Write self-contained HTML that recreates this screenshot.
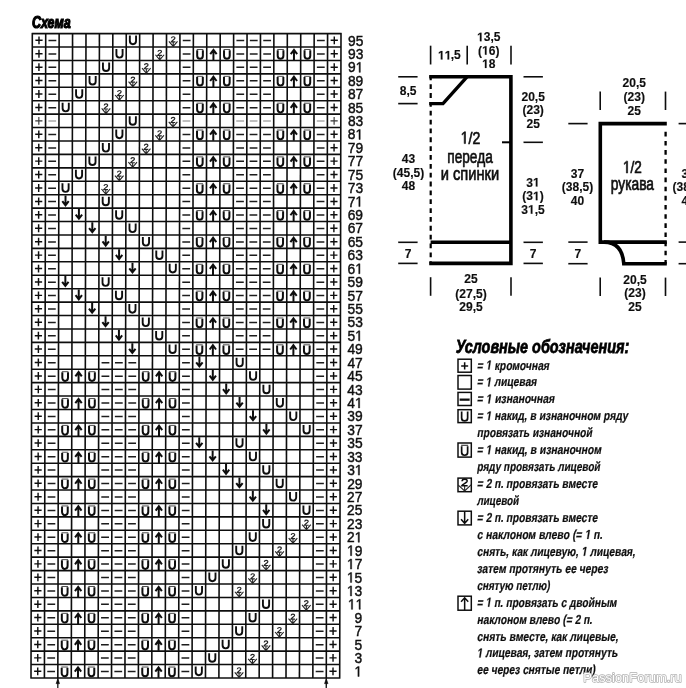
<!DOCTYPE html>
<html lang="ru"><head><meta charset="utf-8"><title>Схема</title>
<style>html,body{margin:0;padding:0;background:#fff}body{width:686px;height:688px;position:relative;overflow:hidden;font-family:"Liberation Sans",sans-serif}</style></head>
<body>
<svg width="686" height="688" viewBox="0 0 686 688" style="position:absolute;left:0;top:0">
<defs><filter id="bl" x="-2%" y="-2%" width="104%" height="104%"><feGaussianBlur stdDeviation="0.5"/></filter><filter id="bl2" x="-2%" y="-20%" width="104%" height="140%"><feGaussianBlur stdDeviation="0.3"/></filter></defs>
<g filter="url(#bl)">
<g transform="matrix(1 0 -0.002017 1 0.0678 0)">
<path d="M32.30 33.00V678.60M45.72 33.00V678.60M59.14 33.00V678.60M72.57 33.00V678.60M85.99 33.00V678.60M99.41 33.00V678.60M112.83 33.00V678.60M126.25 33.00V678.60M139.67 33.00V678.60M153.10 33.00V678.60M166.52 33.00V678.60M179.94 33.00V678.60M193.36 33.00V678.60M206.78 33.00V678.60M220.20 33.00V678.60M233.63 33.00V678.60M247.05 33.00V678.60M260.47 33.00V678.60M273.89 33.00V678.60M287.31 33.00V678.60M300.73 33.00V678.60M314.16 33.00V678.60M327.58 33.00V678.60M341.00 33.00V678.60M31.70 33.60H341.60M31.70 47.02H341.60M31.70 60.45H341.60M31.70 73.88H341.60M31.70 87.30H341.60M31.70 100.72H341.60M31.70 114.15H341.60M31.70 127.57H341.60M31.70 141.00H341.60M31.70 154.42H341.60M31.70 167.85H341.60M31.70 181.27H341.60M31.70 194.70H341.60M31.70 208.12H341.60M31.70 221.55H341.60M31.70 234.97H341.60M31.70 248.40H341.60M31.70 261.82H341.60M31.70 275.25H341.60M31.70 288.68H341.60M31.70 302.10H341.60M31.70 315.52H341.60M31.70 328.95H341.60M31.70 342.38H341.60M31.70 355.80H341.60M31.70 369.23H341.60M31.70 382.65H341.60M31.70 396.07H341.60M31.70 409.50H341.60M31.70 422.93H341.60M31.70 436.35H341.60M31.70 449.77H341.60M31.70 463.20H341.60M31.70 476.62H341.60M31.70 490.05H341.60M31.70 503.47H341.60M31.70 516.90H341.60M31.70 530.32H341.60M31.70 543.75H341.60M31.70 557.17H341.60M31.70 570.60H341.60M31.70 584.02H341.60M31.70 597.45H341.60M31.70 610.88H341.60M31.70 624.30H341.60M31.70 637.73H341.60M31.70 651.15H341.60M31.70 664.57H341.60M31.70 678.00H341.60" stroke="#111" stroke-width="1.6" fill="none"/>
<path d="M35.41 40.31H42.61M39.01 36.41V44.21" stroke="#111" stroke-width="1.45" fill="none"/>
<path d="M48.53 40.51H56.33" stroke="#1c1c1c" stroke-width="1.5" fill="none"/>
<path d="M129.86 35.61V41.11A3.10 3.10 0 0 0 136.06 41.11V35.61" stroke="#111" stroke-width="1.9" fill="none"/>
<path d="M168.93 41.31L173.23 46.41L177.53 41.31M173.23 42.11V46.41" stroke="#222" stroke-width="1.1" fill="none"/>
<path d="M171.43 38.31C171.63 36.21 175.23 36.41 174.93 38.21C174.73 39.51 171.93 40.31 171.23 41.91H175.43" stroke="#222" stroke-width="1.15" fill="none"/>
<path d="M182.75 40.51H190.55" stroke="#1c1c1c" stroke-width="1.5" fill="none"/>
<path d="M236.44 40.51H244.24" stroke="#1c1c1c" stroke-width="1.5" fill="none"/>
<path d="M249.86 40.51H257.66" stroke="#1c1c1c" stroke-width="1.5" fill="none"/>
<path d="M263.28 40.51H271.08" stroke="#1c1c1c" stroke-width="1.5" fill="none"/>
<path d="M316.97 40.51H324.77" stroke="#1c1c1c" stroke-width="1.5" fill="none"/>
<path d="M330.69 40.31H337.89M334.29 36.41V44.21" stroke="#111" stroke-width="1.45" fill="none"/>
<path d="M35.41 53.74H42.61M39.01 49.84V57.64" stroke="#111" stroke-width="1.45" fill="none"/>
<path d="M48.53 53.94H56.33" stroke="#1c1c1c" stroke-width="1.5" fill="none"/>
<path d="M116.44 49.04V54.54A3.10 3.10 0 0 0 122.64 54.54V49.04" stroke="#111" stroke-width="1.9" fill="none"/>
<path d="M155.51 54.74L159.81 59.84L164.11 54.74M159.81 55.54V59.84" stroke="#222" stroke-width="1.1" fill="none"/>
<path d="M158.01 51.74C158.21 49.64 161.81 49.84 161.51 51.64C161.31 52.94 158.51 53.74 157.81 55.34H162.01" stroke="#222" stroke-width="1.15" fill="none"/>
<path d="M182.75 53.94H190.55" stroke="#1c1c1c" stroke-width="1.5" fill="none"/>
<path d="M197.22 50.14V55.64A2.85 3.10 0 0 0 202.92 55.64V50.14" stroke="#111" stroke-width="2.0" fill="none"/>
<path d="M196.77 49.49H203.37" stroke="#444" stroke-width="0.95" fill="none"/>
<path d="M213.49 60.14V50.34M210.29 54.14L213.49 49.84L216.69 54.14" stroke="#111" stroke-width="2.0" fill="none" stroke-linejoin="miter"/>
<path d="M224.07 50.14V55.64A2.85 3.10 0 0 0 229.77 55.64V50.14" stroke="#111" stroke-width="2.0" fill="none"/>
<path d="M223.62 49.49H230.22" stroke="#444" stroke-width="0.95" fill="none"/>
<path d="M236.44 53.94H244.24" stroke="#1c1c1c" stroke-width="1.5" fill="none"/>
<path d="M249.86 53.94H257.66" stroke="#1c1c1c" stroke-width="1.5" fill="none"/>
<path d="M263.28 53.94H271.08" stroke="#1c1c1c" stroke-width="1.5" fill="none"/>
<path d="M277.75 50.14V55.64A2.85 3.10 0 0 0 283.45 55.64V50.14" stroke="#111" stroke-width="2.0" fill="none"/>
<path d="M277.30 49.49H283.90" stroke="#444" stroke-width="0.95" fill="none"/>
<path d="M294.02 60.14V50.34M290.82 54.14L294.02 49.84L297.22 54.14" stroke="#111" stroke-width="2.0" fill="none" stroke-linejoin="miter"/>
<path d="M304.60 50.14V55.64A2.85 3.10 0 0 0 310.30 55.64V50.14" stroke="#111" stroke-width="2.0" fill="none"/>
<path d="M304.15 49.49H310.75" stroke="#444" stroke-width="0.95" fill="none"/>
<path d="M316.97 53.94H324.77" stroke="#1c1c1c" stroke-width="1.5" fill="none"/>
<path d="M330.69 53.74H337.89M334.29 49.84V57.64" stroke="#111" stroke-width="1.45" fill="none"/>
<path d="M35.41 67.16H42.61M39.01 63.26V71.06" stroke="#111" stroke-width="1.45" fill="none"/>
<path d="M48.53 67.36H56.33" stroke="#1c1c1c" stroke-width="1.5" fill="none"/>
<path d="M103.02 62.46V67.96A3.10 3.10 0 0 0 109.22 67.96V62.46" stroke="#111" stroke-width="1.9" fill="none"/>
<path d="M142.08 68.16L146.38 73.26L150.68 68.16M146.38 68.96V73.26" stroke="#222" stroke-width="1.1" fill="none"/>
<path d="M144.58 65.16C144.78 63.06 148.38 63.26 148.08 65.06C147.88 66.36 145.08 67.16 144.38 68.76H148.58" stroke="#222" stroke-width="1.15" fill="none"/>
<path d="M182.75 67.36H190.55" stroke="#1c1c1c" stroke-width="1.5" fill="none"/>
<path d="M236.44 67.36H244.24" stroke="#1c1c1c" stroke-width="1.5" fill="none"/>
<path d="M249.86 67.36H257.66" stroke="#1c1c1c" stroke-width="1.5" fill="none"/>
<path d="M263.28 67.36H271.08" stroke="#1c1c1c" stroke-width="1.5" fill="none"/>
<path d="M316.97 67.36H324.77" stroke="#1c1c1c" stroke-width="1.5" fill="none"/>
<path d="M330.69 67.16H337.89M334.29 63.26V71.06" stroke="#111" stroke-width="1.45" fill="none"/>
<path d="M35.41 80.59H42.61M39.01 76.69V84.49" stroke="#111" stroke-width="1.45" fill="none"/>
<path d="M48.53 80.79H56.33" stroke="#1c1c1c" stroke-width="1.5" fill="none"/>
<path d="M89.60 75.89V81.39A3.10 3.10 0 0 0 95.80 81.39V75.89" stroke="#111" stroke-width="1.9" fill="none"/>
<path d="M128.66 81.59L132.96 86.69L137.26 81.59M132.96 82.39V86.69" stroke="#222" stroke-width="1.1" fill="none"/>
<path d="M131.16 78.59C131.36 76.49 134.96 76.69 134.66 78.49C134.46 79.79 131.66 80.59 130.96 82.19H135.16" stroke="#222" stroke-width="1.15" fill="none"/>
<path d="M182.75 80.79H190.55" stroke="#1c1c1c" stroke-width="1.5" fill="none"/>
<path d="M197.22 76.99V82.49A2.85 3.10 0 0 0 202.92 82.49V76.99" stroke="#111" stroke-width="2.0" fill="none"/>
<path d="M196.77 76.34H203.37" stroke="#444" stroke-width="0.95" fill="none"/>
<path d="M213.49 86.99V77.19M210.29 80.99L213.49 76.69L216.69 80.99" stroke="#111" stroke-width="2.0" fill="none" stroke-linejoin="miter"/>
<path d="M224.07 76.99V82.49A2.85 3.10 0 0 0 229.77 82.49V76.99" stroke="#111" stroke-width="2.0" fill="none"/>
<path d="M223.62 76.34H230.22" stroke="#444" stroke-width="0.95" fill="none"/>
<path d="M236.44 80.79H244.24" stroke="#1c1c1c" stroke-width="1.5" fill="none"/>
<path d="M249.86 80.79H257.66" stroke="#1c1c1c" stroke-width="1.5" fill="none"/>
<path d="M263.28 80.79H271.08" stroke="#1c1c1c" stroke-width="1.5" fill="none"/>
<path d="M277.75 76.99V82.49A2.85 3.10 0 0 0 283.45 82.49V76.99" stroke="#111" stroke-width="2.0" fill="none"/>
<path d="M277.30 76.34H283.90" stroke="#444" stroke-width="0.95" fill="none"/>
<path d="M294.02 86.99V77.19M290.82 80.99L294.02 76.69L297.22 80.99" stroke="#111" stroke-width="2.0" fill="none" stroke-linejoin="miter"/>
<path d="M304.60 76.99V82.49A2.85 3.10 0 0 0 310.30 82.49V76.99" stroke="#111" stroke-width="2.0" fill="none"/>
<path d="M304.15 76.34H310.75" stroke="#444" stroke-width="0.95" fill="none"/>
<path d="M316.97 80.79H324.77" stroke="#1c1c1c" stroke-width="1.5" fill="none"/>
<path d="M330.69 80.59H337.89M334.29 76.69V84.49" stroke="#111" stroke-width="1.45" fill="none"/>
<path d="M35.41 94.01H42.61M39.01 90.11V97.91" stroke="#111" stroke-width="1.45" fill="none"/>
<path d="M48.53 94.21H56.33" stroke="#1c1c1c" stroke-width="1.5" fill="none"/>
<path d="M76.18 89.31V94.81A3.10 3.10 0 0 0 82.38 94.81V89.31" stroke="#111" stroke-width="1.9" fill="none"/>
<path d="M115.24 95.01L119.54 100.11L123.84 95.01M119.54 95.81V100.11" stroke="#222" stroke-width="1.1" fill="none"/>
<path d="M117.74 92.01C117.94 89.91 121.54 90.11 121.24 91.91C121.04 93.21 118.24 94.01 117.54 95.61H121.74" stroke="#222" stroke-width="1.15" fill="none"/>
<path d="M182.75 94.21H190.55" stroke="#1c1c1c" stroke-width="1.5" fill="none"/>
<path d="M236.44 94.21H244.24" stroke="#1c1c1c" stroke-width="1.5" fill="none"/>
<path d="M249.86 94.21H257.66" stroke="#1c1c1c" stroke-width="1.5" fill="none"/>
<path d="M263.28 94.21H271.08" stroke="#1c1c1c" stroke-width="1.5" fill="none"/>
<path d="M316.97 94.21H324.77" stroke="#1c1c1c" stroke-width="1.5" fill="none"/>
<path d="M330.69 94.01H337.89M334.29 90.11V97.91" stroke="#111" stroke-width="1.45" fill="none"/>
<path d="M35.41 107.44H42.61M39.01 103.54V111.34" stroke="#111" stroke-width="1.45" fill="none"/>
<path d="M48.53 107.64H56.33" stroke="#1c1c1c" stroke-width="1.5" fill="none"/>
<path d="M62.75 102.74V108.24A3.10 3.10 0 0 0 68.95 108.24V102.74" stroke="#111" stroke-width="1.9" fill="none"/>
<path d="M101.82 108.44L106.12 113.54L110.42 108.44M106.12 109.24V113.54" stroke="#222" stroke-width="1.1" fill="none"/>
<path d="M104.32 105.44C104.52 103.34 108.12 103.54 107.82 105.34C107.62 106.64 104.82 107.44 104.12 109.04H108.32" stroke="#222" stroke-width="1.15" fill="none"/>
<path d="M182.75 107.64H190.55" stroke="#1c1c1c" stroke-width="1.5" fill="none"/>
<path d="M197.22 103.84V109.34A2.85 3.10 0 0 0 202.92 109.34V103.84" stroke="#111" stroke-width="2.0" fill="none"/>
<path d="M196.77 103.19H203.37" stroke="#444" stroke-width="0.95" fill="none"/>
<path d="M213.49 113.84V104.04M210.29 107.84L213.49 103.54L216.69 107.84" stroke="#111" stroke-width="2.0" fill="none" stroke-linejoin="miter"/>
<path d="M224.07 103.84V109.34A2.85 3.10 0 0 0 229.77 109.34V103.84" stroke="#111" stroke-width="2.0" fill="none"/>
<path d="M223.62 103.19H230.22" stroke="#444" stroke-width="0.95" fill="none"/>
<path d="M236.44 107.64H244.24" stroke="#1c1c1c" stroke-width="1.5" fill="none"/>
<path d="M249.86 107.64H257.66" stroke="#1c1c1c" stroke-width="1.5" fill="none"/>
<path d="M263.28 107.64H271.08" stroke="#1c1c1c" stroke-width="1.5" fill="none"/>
<path d="M277.75 103.84V109.34A2.85 3.10 0 0 0 283.45 109.34V103.84" stroke="#111" stroke-width="2.0" fill="none"/>
<path d="M277.30 103.19H283.90" stroke="#444" stroke-width="0.95" fill="none"/>
<path d="M294.02 113.84V104.04M290.82 107.84L294.02 103.54L297.22 107.84" stroke="#111" stroke-width="2.0" fill="none" stroke-linejoin="miter"/>
<path d="M304.60 103.84V109.34A2.85 3.10 0 0 0 310.30 109.34V103.84" stroke="#111" stroke-width="2.0" fill="none"/>
<path d="M304.15 103.19H310.75" stroke="#444" stroke-width="0.95" fill="none"/>
<path d="M316.97 107.64H324.77" stroke="#1c1c1c" stroke-width="1.5" fill="none"/>
<path d="M330.69 107.44H337.89M334.29 103.54V111.34" stroke="#111" stroke-width="1.45" fill="none"/>
<path d="M35.41 120.86H42.61M39.01 116.96V124.76" stroke="#3a3a3a" stroke-width="1.15" fill="none"/>
<path d="M48.53 121.06H56.33" stroke="#aaa" stroke-width="1.5" fill="none"/>
<path d="M129.86 116.16V121.66A3.10 3.10 0 0 0 136.06 121.66V116.16" stroke="#111" stroke-width="1.9" fill="none"/>
<path d="M168.93 121.86L173.23 126.96L177.53 121.86M173.23 122.66V126.96" stroke="#222" stroke-width="1.1" fill="none"/>
<path d="M171.43 118.86C171.63 116.76 175.23 116.96 174.93 118.76C174.73 120.06 171.93 120.86 171.23 122.46H175.43" stroke="#222" stroke-width="1.15" fill="none"/>
<path d="M182.75 121.06H190.55" stroke="#aaa" stroke-width="1.5" fill="none"/>
<path d="M236.44 121.06H244.24" stroke="#aaa" stroke-width="1.5" fill="none"/>
<path d="M249.86 121.06H257.66" stroke="#aaa" stroke-width="1.5" fill="none"/>
<path d="M263.28 121.06H271.08" stroke="#aaa" stroke-width="1.5" fill="none"/>
<path d="M316.97 121.06H324.77" stroke="#aaa" stroke-width="1.5" fill="none"/>
<path d="M330.69 120.86H337.89M334.29 116.96V124.76" stroke="#3a3a3a" stroke-width="1.15" fill="none"/>
<path d="M35.41 134.29H42.61M39.01 130.39V138.19" stroke="#111" stroke-width="1.45" fill="none"/>
<path d="M48.53 134.49H56.33" stroke="#1c1c1c" stroke-width="1.5" fill="none"/>
<path d="M116.44 129.59V135.09A3.10 3.10 0 0 0 122.64 135.09V129.59" stroke="#111" stroke-width="1.9" fill="none"/>
<path d="M155.51 135.29L159.81 140.39L164.11 135.29M159.81 136.09V140.39" stroke="#222" stroke-width="1.1" fill="none"/>
<path d="M158.01 132.29C158.21 130.19 161.81 130.39 161.51 132.19C161.31 133.49 158.51 134.29 157.81 135.89H162.01" stroke="#222" stroke-width="1.15" fill="none"/>
<path d="M182.75 134.49H190.55" stroke="#1c1c1c" stroke-width="1.5" fill="none"/>
<path d="M197.22 130.69V136.19A2.85 3.10 0 0 0 202.92 136.19V130.69" stroke="#111" stroke-width="2.0" fill="none"/>
<path d="M196.77 130.04H203.37" stroke="#444" stroke-width="0.95" fill="none"/>
<path d="M213.49 140.69V130.89M210.29 134.69L213.49 130.39L216.69 134.69" stroke="#111" stroke-width="2.0" fill="none" stroke-linejoin="miter"/>
<path d="M224.07 130.69V136.19A2.85 3.10 0 0 0 229.77 136.19V130.69" stroke="#111" stroke-width="2.0" fill="none"/>
<path d="M223.62 130.04H230.22" stroke="#444" stroke-width="0.95" fill="none"/>
<path d="M236.44 134.49H244.24" stroke="#1c1c1c" stroke-width="1.5" fill="none"/>
<path d="M249.86 134.49H257.66" stroke="#1c1c1c" stroke-width="1.5" fill="none"/>
<path d="M263.28 134.49H271.08" stroke="#1c1c1c" stroke-width="1.5" fill="none"/>
<path d="M277.75 130.69V136.19A2.85 3.10 0 0 0 283.45 136.19V130.69" stroke="#111" stroke-width="2.0" fill="none"/>
<path d="M277.30 130.04H283.90" stroke="#444" stroke-width="0.95" fill="none"/>
<path d="M294.02 140.69V130.89M290.82 134.69L294.02 130.39L297.22 134.69" stroke="#111" stroke-width="2.0" fill="none" stroke-linejoin="miter"/>
<path d="M304.60 130.69V136.19A2.85 3.10 0 0 0 310.30 136.19V130.69" stroke="#111" stroke-width="2.0" fill="none"/>
<path d="M304.15 130.04H310.75" stroke="#444" stroke-width="0.95" fill="none"/>
<path d="M316.97 134.49H324.77" stroke="#1c1c1c" stroke-width="1.5" fill="none"/>
<path d="M330.69 134.29H337.89M334.29 130.39V138.19" stroke="#111" stroke-width="1.45" fill="none"/>
<path d="M35.41 147.71H42.61M39.01 143.81V151.61" stroke="#111" stroke-width="1.45" fill="none"/>
<path d="M48.53 147.91H56.33" stroke="#1c1c1c" stroke-width="1.5" fill="none"/>
<path d="M103.02 143.01V148.51A3.10 3.10 0 0 0 109.22 148.51V143.01" stroke="#111" stroke-width="1.9" fill="none"/>
<path d="M142.08 148.71L146.38 153.81L150.68 148.71M146.38 149.51V153.81" stroke="#222" stroke-width="1.1" fill="none"/>
<path d="M144.58 145.71C144.78 143.61 148.38 143.81 148.08 145.61C147.88 146.91 145.08 147.71 144.38 149.31H148.58" stroke="#222" stroke-width="1.15" fill="none"/>
<path d="M182.75 147.91H190.55" stroke="#1c1c1c" stroke-width="1.5" fill="none"/>
<path d="M236.44 147.91H244.24" stroke="#1c1c1c" stroke-width="1.5" fill="none"/>
<path d="M249.86 147.91H257.66" stroke="#1c1c1c" stroke-width="1.5" fill="none"/>
<path d="M263.28 147.91H271.08" stroke="#1c1c1c" stroke-width="1.5" fill="none"/>
<path d="M316.97 147.91H324.77" stroke="#1c1c1c" stroke-width="1.5" fill="none"/>
<path d="M330.69 147.71H337.89M334.29 143.81V151.61" stroke="#111" stroke-width="1.45" fill="none"/>
<path d="M35.41 161.14H42.61M39.01 157.24V165.04" stroke="#111" stroke-width="1.45" fill="none"/>
<path d="M48.53 161.34H56.33" stroke="#1c1c1c" stroke-width="1.5" fill="none"/>
<path d="M89.60 156.44V161.94A3.10 3.10 0 0 0 95.80 161.94V156.44" stroke="#111" stroke-width="1.9" fill="none"/>
<path d="M128.66 162.14L132.96 167.24L137.26 162.14M132.96 162.94V167.24" stroke="#222" stroke-width="1.1" fill="none"/>
<path d="M131.16 159.14C131.36 157.04 134.96 157.24 134.66 159.04C134.46 160.34 131.66 161.14 130.96 162.74H135.16" stroke="#222" stroke-width="1.15" fill="none"/>
<path d="M182.75 161.34H190.55" stroke="#1c1c1c" stroke-width="1.5" fill="none"/>
<path d="M197.22 157.54V163.04A2.85 3.10 0 0 0 202.92 163.04V157.54" stroke="#111" stroke-width="2.0" fill="none"/>
<path d="M196.77 156.89H203.37" stroke="#444" stroke-width="0.95" fill="none"/>
<path d="M213.49 167.54V157.74M210.29 161.54L213.49 157.24L216.69 161.54" stroke="#111" stroke-width="2.0" fill="none" stroke-linejoin="miter"/>
<path d="M224.07 157.54V163.04A2.85 3.10 0 0 0 229.77 163.04V157.54" stroke="#111" stroke-width="2.0" fill="none"/>
<path d="M223.62 156.89H230.22" stroke="#444" stroke-width="0.95" fill="none"/>
<path d="M236.44 161.34H244.24" stroke="#1c1c1c" stroke-width="1.5" fill="none"/>
<path d="M249.86 161.34H257.66" stroke="#1c1c1c" stroke-width="1.5" fill="none"/>
<path d="M263.28 161.34H271.08" stroke="#1c1c1c" stroke-width="1.5" fill="none"/>
<path d="M277.75 157.54V163.04A2.85 3.10 0 0 0 283.45 163.04V157.54" stroke="#111" stroke-width="2.0" fill="none"/>
<path d="M277.30 156.89H283.90" stroke="#444" stroke-width="0.95" fill="none"/>
<path d="M294.02 167.54V157.74M290.82 161.54L294.02 157.24L297.22 161.54" stroke="#111" stroke-width="2.0" fill="none" stroke-linejoin="miter"/>
<path d="M304.60 157.54V163.04A2.85 3.10 0 0 0 310.30 163.04V157.54" stroke="#111" stroke-width="2.0" fill="none"/>
<path d="M304.15 156.89H310.75" stroke="#444" stroke-width="0.95" fill="none"/>
<path d="M316.97 161.34H324.77" stroke="#1c1c1c" stroke-width="1.5" fill="none"/>
<path d="M330.69 161.14H337.89M334.29 157.24V165.04" stroke="#111" stroke-width="1.45" fill="none"/>
<path d="M35.41 174.56H42.61M39.01 170.66V178.46" stroke="#111" stroke-width="1.45" fill="none"/>
<path d="M48.53 174.76H56.33" stroke="#1c1c1c" stroke-width="1.5" fill="none"/>
<path d="M76.18 169.86V175.36A3.10 3.10 0 0 0 82.38 175.36V169.86" stroke="#111" stroke-width="1.9" fill="none"/>
<path d="M115.24 175.56L119.54 180.66L123.84 175.56M119.54 176.36V180.66" stroke="#222" stroke-width="1.1" fill="none"/>
<path d="M117.74 172.56C117.94 170.46 121.54 170.66 121.24 172.46C121.04 173.76 118.24 174.56 117.54 176.16H121.74" stroke="#222" stroke-width="1.15" fill="none"/>
<path d="M182.75 174.76H190.55" stroke="#1c1c1c" stroke-width="1.5" fill="none"/>
<path d="M236.44 174.76H244.24" stroke="#1c1c1c" stroke-width="1.5" fill="none"/>
<path d="M249.86 174.76H257.66" stroke="#1c1c1c" stroke-width="1.5" fill="none"/>
<path d="M263.28 174.76H271.08" stroke="#1c1c1c" stroke-width="1.5" fill="none"/>
<path d="M316.97 174.76H324.77" stroke="#1c1c1c" stroke-width="1.5" fill="none"/>
<path d="M330.69 174.56H337.89M334.29 170.66V178.46" stroke="#111" stroke-width="1.45" fill="none"/>
<path d="M35.41 187.99H42.61M39.01 184.09V191.89" stroke="#111" stroke-width="1.45" fill="none"/>
<path d="M48.53 188.19H56.33" stroke="#1c1c1c" stroke-width="1.5" fill="none"/>
<path d="M62.75 183.29V188.79A3.10 3.10 0 0 0 68.95 188.79V183.29" stroke="#111" stroke-width="1.9" fill="none"/>
<path d="M101.82 188.99L106.12 194.09L110.42 188.99M106.12 189.79V194.09" stroke="#222" stroke-width="1.1" fill="none"/>
<path d="M104.32 185.99C104.52 183.89 108.12 184.09 107.82 185.89C107.62 187.19 104.82 187.99 104.12 189.59H108.32" stroke="#222" stroke-width="1.15" fill="none"/>
<path d="M182.75 188.19H190.55" stroke="#1c1c1c" stroke-width="1.5" fill="none"/>
<path d="M197.22 184.39V189.89A2.85 3.10 0 0 0 202.92 189.89V184.39" stroke="#111" stroke-width="2.0" fill="none"/>
<path d="M196.77 183.74H203.37" stroke="#444" stroke-width="0.95" fill="none"/>
<path d="M213.49 194.39V184.59M210.29 188.39L213.49 184.09L216.69 188.39" stroke="#111" stroke-width="2.0" fill="none" stroke-linejoin="miter"/>
<path d="M224.07 184.39V189.89A2.85 3.10 0 0 0 229.77 189.89V184.39" stroke="#111" stroke-width="2.0" fill="none"/>
<path d="M223.62 183.74H230.22" stroke="#444" stroke-width="0.95" fill="none"/>
<path d="M236.44 188.19H244.24" stroke="#1c1c1c" stroke-width="1.5" fill="none"/>
<path d="M249.86 188.19H257.66" stroke="#1c1c1c" stroke-width="1.5" fill="none"/>
<path d="M263.28 188.19H271.08" stroke="#1c1c1c" stroke-width="1.5" fill="none"/>
<path d="M277.75 184.39V189.89A2.85 3.10 0 0 0 283.45 189.89V184.39" stroke="#111" stroke-width="2.0" fill="none"/>
<path d="M277.30 183.74H283.90" stroke="#444" stroke-width="0.95" fill="none"/>
<path d="M294.02 194.39V184.59M290.82 188.39L294.02 184.09L297.22 188.39" stroke="#111" stroke-width="2.0" fill="none" stroke-linejoin="miter"/>
<path d="M304.60 184.39V189.89A2.85 3.10 0 0 0 310.30 189.89V184.39" stroke="#111" stroke-width="2.0" fill="none"/>
<path d="M304.15 183.74H310.75" stroke="#444" stroke-width="0.95" fill="none"/>
<path d="M316.97 188.19H324.77" stroke="#1c1c1c" stroke-width="1.5" fill="none"/>
<path d="M330.69 187.99H337.89M334.29 184.09V191.89" stroke="#111" stroke-width="1.45" fill="none"/>
<path d="M35.41 201.41H42.61M39.01 197.51V205.31" stroke="#111" stroke-width="1.45" fill="none"/>
<path d="M48.53 201.61H56.33" stroke="#1c1c1c" stroke-width="1.5" fill="none"/>
<path d="M65.85 195.51V204.81M62.65 201.21L65.85 205.31L69.05 201.21" stroke="#111" stroke-width="2.0" fill="none" stroke-linejoin="miter"/>
<path d="M103.02 196.71V202.21A3.10 3.10 0 0 0 109.22 202.21V196.71" stroke="#111" stroke-width="1.9" fill="none"/>
<path d="M182.75 201.61H190.55" stroke="#1c1c1c" stroke-width="1.5" fill="none"/>
<path d="M236.44 201.61H244.24" stroke="#1c1c1c" stroke-width="1.5" fill="none"/>
<path d="M249.86 201.61H257.66" stroke="#1c1c1c" stroke-width="1.5" fill="none"/>
<path d="M263.28 201.61H271.08" stroke="#1c1c1c" stroke-width="1.5" fill="none"/>
<path d="M316.97 201.61H324.77" stroke="#1c1c1c" stroke-width="1.5" fill="none"/>
<path d="M330.69 201.41H337.89M334.29 197.51V205.31" stroke="#111" stroke-width="1.45" fill="none"/>
<path d="M35.41 214.84H42.61M39.01 210.94V218.74" stroke="#111" stroke-width="1.45" fill="none"/>
<path d="M48.53 215.04H56.33" stroke="#1c1c1c" stroke-width="1.5" fill="none"/>
<path d="M79.28 208.94V218.24M76.08 214.64L79.28 218.74L82.48 214.64" stroke="#111" stroke-width="2.0" fill="none" stroke-linejoin="miter"/>
<path d="M116.44 210.14V215.64A3.10 3.10 0 0 0 122.64 215.64V210.14" stroke="#111" stroke-width="1.9" fill="none"/>
<path d="M182.75 215.04H190.55" stroke="#1c1c1c" stroke-width="1.5" fill="none"/>
<path d="M197.22 211.24V216.74A2.85 3.10 0 0 0 202.92 216.74V211.24" stroke="#111" stroke-width="2.0" fill="none"/>
<path d="M196.77 210.59H203.37" stroke="#444" stroke-width="0.95" fill="none"/>
<path d="M213.49 221.24V211.44M210.29 215.24L213.49 210.94L216.69 215.24" stroke="#111" stroke-width="2.0" fill="none" stroke-linejoin="miter"/>
<path d="M224.07 211.24V216.74A2.85 3.10 0 0 0 229.77 216.74V211.24" stroke="#111" stroke-width="2.0" fill="none"/>
<path d="M223.62 210.59H230.22" stroke="#444" stroke-width="0.95" fill="none"/>
<path d="M236.44 215.04H244.24" stroke="#1c1c1c" stroke-width="1.5" fill="none"/>
<path d="M249.86 215.04H257.66" stroke="#1c1c1c" stroke-width="1.5" fill="none"/>
<path d="M263.28 215.04H271.08" stroke="#1c1c1c" stroke-width="1.5" fill="none"/>
<path d="M277.75 211.24V216.74A2.85 3.10 0 0 0 283.45 216.74V211.24" stroke="#111" stroke-width="2.0" fill="none"/>
<path d="M277.30 210.59H283.90" stroke="#444" stroke-width="0.95" fill="none"/>
<path d="M294.02 221.24V211.44M290.82 215.24L294.02 210.94L297.22 215.24" stroke="#111" stroke-width="2.0" fill="none" stroke-linejoin="miter"/>
<path d="M304.60 211.24V216.74A2.85 3.10 0 0 0 310.30 216.74V211.24" stroke="#111" stroke-width="2.0" fill="none"/>
<path d="M304.15 210.59H310.75" stroke="#444" stroke-width="0.95" fill="none"/>
<path d="M316.97 215.04H324.77" stroke="#1c1c1c" stroke-width="1.5" fill="none"/>
<path d="M330.69 214.84H337.89M334.29 210.94V218.74" stroke="#111" stroke-width="1.45" fill="none"/>
<path d="M35.41 228.26H42.61M39.01 224.36V232.16" stroke="#111" stroke-width="1.45" fill="none"/>
<path d="M48.53 228.46H56.33" stroke="#1c1c1c" stroke-width="1.5" fill="none"/>
<path d="M92.70 222.36V231.66M89.50 228.06L92.70 232.16L95.90 228.06" stroke="#111" stroke-width="2.0" fill="none" stroke-linejoin="miter"/>
<path d="M129.86 223.56V229.06A3.10 3.10 0 0 0 136.06 229.06V223.56" stroke="#111" stroke-width="1.9" fill="none"/>
<path d="M182.75 228.46H190.55" stroke="#1c1c1c" stroke-width="1.5" fill="none"/>
<path d="M236.44 228.46H244.24" stroke="#1c1c1c" stroke-width="1.5" fill="none"/>
<path d="M249.86 228.46H257.66" stroke="#1c1c1c" stroke-width="1.5" fill="none"/>
<path d="M263.28 228.46H271.08" stroke="#1c1c1c" stroke-width="1.5" fill="none"/>
<path d="M316.97 228.46H324.77" stroke="#1c1c1c" stroke-width="1.5" fill="none"/>
<path d="M330.69 228.26H337.89M334.29 224.36V232.16" stroke="#111" stroke-width="1.45" fill="none"/>
<path d="M35.41 241.69H42.61M39.01 237.79V245.59" stroke="#111" stroke-width="1.45" fill="none"/>
<path d="M48.53 241.89H56.33" stroke="#1c1c1c" stroke-width="1.5" fill="none"/>
<path d="M106.12 235.79V245.09M102.92 241.49L106.12 245.59L109.32 241.49" stroke="#111" stroke-width="2.0" fill="none" stroke-linejoin="miter"/>
<path d="M143.28 236.99V242.49A3.10 3.10 0 0 0 149.48 242.49V236.99" stroke="#111" stroke-width="1.9" fill="none"/>
<path d="M182.75 241.89H190.55" stroke="#1c1c1c" stroke-width="1.5" fill="none"/>
<path d="M197.22 238.09V243.59A2.85 3.10 0 0 0 202.92 243.59V238.09" stroke="#111" stroke-width="2.0" fill="none"/>
<path d="M196.77 237.44H203.37" stroke="#444" stroke-width="0.95" fill="none"/>
<path d="M213.49 248.09V238.29M210.29 242.09L213.49 237.79L216.69 242.09" stroke="#111" stroke-width="2.0" fill="none" stroke-linejoin="miter"/>
<path d="M224.07 238.09V243.59A2.85 3.10 0 0 0 229.77 243.59V238.09" stroke="#111" stroke-width="2.0" fill="none"/>
<path d="M223.62 237.44H230.22" stroke="#444" stroke-width="0.95" fill="none"/>
<path d="M236.44 241.89H244.24" stroke="#1c1c1c" stroke-width="1.5" fill="none"/>
<path d="M249.86 241.89H257.66" stroke="#1c1c1c" stroke-width="1.5" fill="none"/>
<path d="M263.28 241.89H271.08" stroke="#1c1c1c" stroke-width="1.5" fill="none"/>
<path d="M277.75 238.09V243.59A2.85 3.10 0 0 0 283.45 243.59V238.09" stroke="#111" stroke-width="2.0" fill="none"/>
<path d="M277.30 237.44H283.90" stroke="#444" stroke-width="0.95" fill="none"/>
<path d="M294.02 248.09V238.29M290.82 242.09L294.02 237.79L297.22 242.09" stroke="#111" stroke-width="2.0" fill="none" stroke-linejoin="miter"/>
<path d="M304.60 238.09V243.59A2.85 3.10 0 0 0 310.30 243.59V238.09" stroke="#111" stroke-width="2.0" fill="none"/>
<path d="M304.15 237.44H310.75" stroke="#444" stroke-width="0.95" fill="none"/>
<path d="M316.97 241.89H324.77" stroke="#1c1c1c" stroke-width="1.5" fill="none"/>
<path d="M330.69 241.69H337.89M334.29 237.79V245.59" stroke="#111" stroke-width="1.45" fill="none"/>
<path d="M35.41 255.11H42.61M39.01 251.21V259.01" stroke="#111" stroke-width="1.45" fill="none"/>
<path d="M48.53 255.31H56.33" stroke="#1c1c1c" stroke-width="1.5" fill="none"/>
<path d="M119.54 249.21V258.51M116.34 254.91L119.54 259.01L122.74 254.91" stroke="#111" stroke-width="2.0" fill="none" stroke-linejoin="miter"/>
<path d="M156.71 250.41V255.91A3.10 3.10 0 0 0 162.91 255.91V250.41" stroke="#111" stroke-width="1.9" fill="none"/>
<path d="M182.75 255.31H190.55" stroke="#1c1c1c" stroke-width="1.5" fill="none"/>
<path d="M236.44 255.31H244.24" stroke="#1c1c1c" stroke-width="1.5" fill="none"/>
<path d="M249.86 255.31H257.66" stroke="#1c1c1c" stroke-width="1.5" fill="none"/>
<path d="M263.28 255.31H271.08" stroke="#1c1c1c" stroke-width="1.5" fill="none"/>
<path d="M316.97 255.31H324.77" stroke="#1c1c1c" stroke-width="1.5" fill="none"/>
<path d="M330.69 255.11H337.89M334.29 251.21V259.01" stroke="#111" stroke-width="1.45" fill="none"/>
<path d="M35.41 268.54H42.61M39.01 264.64V272.44" stroke="#111" stroke-width="1.45" fill="none"/>
<path d="M48.53 268.74H56.33" stroke="#1c1c1c" stroke-width="1.5" fill="none"/>
<path d="M132.96 262.64V271.94M129.76 268.34L132.96 272.44L136.16 268.34" stroke="#111" stroke-width="2.0" fill="none" stroke-linejoin="miter"/>
<path d="M170.13 263.84V269.34A3.10 3.10 0 0 0 176.33 269.34V263.84" stroke="#111" stroke-width="1.9" fill="none"/>
<path d="M182.75 268.74H190.55" stroke="#1c1c1c" stroke-width="1.5" fill="none"/>
<path d="M197.22 264.94V270.44A2.85 3.10 0 0 0 202.92 270.44V264.94" stroke="#111" stroke-width="2.0" fill="none"/>
<path d="M196.77 264.29H203.37" stroke="#444" stroke-width="0.95" fill="none"/>
<path d="M213.49 274.94V265.14M210.29 268.94L213.49 264.64L216.69 268.94" stroke="#111" stroke-width="2.0" fill="none" stroke-linejoin="miter"/>
<path d="M224.07 264.94V270.44A2.85 3.10 0 0 0 229.77 270.44V264.94" stroke="#111" stroke-width="2.0" fill="none"/>
<path d="M223.62 264.29H230.22" stroke="#444" stroke-width="0.95" fill="none"/>
<path d="M236.44 268.74H244.24" stroke="#1c1c1c" stroke-width="1.5" fill="none"/>
<path d="M249.86 268.74H257.66" stroke="#1c1c1c" stroke-width="1.5" fill="none"/>
<path d="M263.28 268.74H271.08" stroke="#1c1c1c" stroke-width="1.5" fill="none"/>
<path d="M277.75 264.94V270.44A2.85 3.10 0 0 0 283.45 270.44V264.94" stroke="#111" stroke-width="2.0" fill="none"/>
<path d="M277.30 264.29H283.90" stroke="#444" stroke-width="0.95" fill="none"/>
<path d="M294.02 274.94V265.14M290.82 268.94L294.02 264.64L297.22 268.94" stroke="#111" stroke-width="2.0" fill="none" stroke-linejoin="miter"/>
<path d="M304.60 264.94V270.44A2.85 3.10 0 0 0 310.30 270.44V264.94" stroke="#111" stroke-width="2.0" fill="none"/>
<path d="M304.15 264.29H310.75" stroke="#444" stroke-width="0.95" fill="none"/>
<path d="M316.97 268.74H324.77" stroke="#1c1c1c" stroke-width="1.5" fill="none"/>
<path d="M330.69 268.54H337.89M334.29 264.64V272.44" stroke="#111" stroke-width="1.45" fill="none"/>
<path d="M35.41 281.96H42.61M39.01 278.06V285.86" stroke="#111" stroke-width="1.45" fill="none"/>
<path d="M48.53 282.16H56.33" stroke="#1c1c1c" stroke-width="1.5" fill="none"/>
<path d="M65.85 276.06V285.36M62.65 281.76L65.85 285.86L69.05 281.76" stroke="#111" stroke-width="2.0" fill="none" stroke-linejoin="miter"/>
<path d="M103.02 277.26V282.76A3.10 3.10 0 0 0 109.22 282.76V277.26" stroke="#111" stroke-width="1.9" fill="none"/>
<path d="M182.75 282.16H190.55" stroke="#1c1c1c" stroke-width="1.5" fill="none"/>
<path d="M236.44 282.16H244.24" stroke="#1c1c1c" stroke-width="1.5" fill="none"/>
<path d="M249.86 282.16H257.66" stroke="#1c1c1c" stroke-width="1.5" fill="none"/>
<path d="M263.28 282.16H271.08" stroke="#1c1c1c" stroke-width="1.5" fill="none"/>
<path d="M316.97 282.16H324.77" stroke="#1c1c1c" stroke-width="1.5" fill="none"/>
<path d="M330.69 281.96H337.89M334.29 278.06V285.86" stroke="#111" stroke-width="1.45" fill="none"/>
<path d="M35.41 295.39H42.61M39.01 291.49V299.29" stroke="#111" stroke-width="1.45" fill="none"/>
<path d="M48.53 295.59H56.33" stroke="#1c1c1c" stroke-width="1.5" fill="none"/>
<path d="M79.28 289.49V298.79M76.08 295.19L79.28 299.29L82.48 295.19" stroke="#111" stroke-width="2.0" fill="none" stroke-linejoin="miter"/>
<path d="M116.44 290.69V296.19A3.10 3.10 0 0 0 122.64 296.19V290.69" stroke="#111" stroke-width="1.9" fill="none"/>
<path d="M182.75 295.59H190.55" stroke="#1c1c1c" stroke-width="1.5" fill="none"/>
<path d="M197.22 291.79V297.29A2.85 3.10 0 0 0 202.92 297.29V291.79" stroke="#111" stroke-width="2.0" fill="none"/>
<path d="M196.77 291.14H203.37" stroke="#444" stroke-width="0.95" fill="none"/>
<path d="M213.49 301.79V291.99M210.29 295.79L213.49 291.49L216.69 295.79" stroke="#111" stroke-width="2.0" fill="none" stroke-linejoin="miter"/>
<path d="M224.07 291.79V297.29A2.85 3.10 0 0 0 229.77 297.29V291.79" stroke="#111" stroke-width="2.0" fill="none"/>
<path d="M223.62 291.14H230.22" stroke="#444" stroke-width="0.95" fill="none"/>
<path d="M236.44 295.59H244.24" stroke="#1c1c1c" stroke-width="1.5" fill="none"/>
<path d="M249.86 295.59H257.66" stroke="#1c1c1c" stroke-width="1.5" fill="none"/>
<path d="M263.28 295.59H271.08" stroke="#1c1c1c" stroke-width="1.5" fill="none"/>
<path d="M277.75 291.79V297.29A2.85 3.10 0 0 0 283.45 297.29V291.79" stroke="#111" stroke-width="2.0" fill="none"/>
<path d="M277.30 291.14H283.90" stroke="#444" stroke-width="0.95" fill="none"/>
<path d="M294.02 301.79V291.99M290.82 295.79L294.02 291.49L297.22 295.79" stroke="#111" stroke-width="2.0" fill="none" stroke-linejoin="miter"/>
<path d="M304.60 291.79V297.29A2.85 3.10 0 0 0 310.30 297.29V291.79" stroke="#111" stroke-width="2.0" fill="none"/>
<path d="M304.15 291.14H310.75" stroke="#444" stroke-width="0.95" fill="none"/>
<path d="M316.97 295.59H324.77" stroke="#1c1c1c" stroke-width="1.5" fill="none"/>
<path d="M330.69 295.39H337.89M334.29 291.49V299.29" stroke="#111" stroke-width="1.45" fill="none"/>
<path d="M35.41 308.81H42.61M39.01 304.91V312.71" stroke="#111" stroke-width="1.45" fill="none"/>
<path d="M48.53 309.01H56.33" stroke="#1c1c1c" stroke-width="1.5" fill="none"/>
<path d="M92.70 302.91V312.21M89.50 308.61L92.70 312.71L95.90 308.61" stroke="#111" stroke-width="2.0" fill="none" stroke-linejoin="miter"/>
<path d="M129.86 304.11V309.61A3.10 3.10 0 0 0 136.06 309.61V304.11" stroke="#111" stroke-width="1.9" fill="none"/>
<path d="M182.75 309.01H190.55" stroke="#1c1c1c" stroke-width="1.5" fill="none"/>
<path d="M236.44 309.01H244.24" stroke="#1c1c1c" stroke-width="1.5" fill="none"/>
<path d="M249.86 309.01H257.66" stroke="#1c1c1c" stroke-width="1.5" fill="none"/>
<path d="M263.28 309.01H271.08" stroke="#1c1c1c" stroke-width="1.5" fill="none"/>
<path d="M316.97 309.01H324.77" stroke="#1c1c1c" stroke-width="1.5" fill="none"/>
<path d="M330.69 308.81H337.89M334.29 304.91V312.71" stroke="#111" stroke-width="1.45" fill="none"/>
<path d="M35.41 322.24H42.61M39.01 318.34V326.14" stroke="#111" stroke-width="1.45" fill="none"/>
<path d="M48.53 322.44H56.33" stroke="#1c1c1c" stroke-width="1.5" fill="none"/>
<path d="M106.12 316.34V325.64M102.92 322.04L106.12 326.14L109.32 322.04" stroke="#111" stroke-width="2.0" fill="none" stroke-linejoin="miter"/>
<path d="M143.28 317.54V323.04A3.10 3.10 0 0 0 149.48 323.04V317.54" stroke="#111" stroke-width="1.9" fill="none"/>
<path d="M182.75 322.44H190.55" stroke="#1c1c1c" stroke-width="1.5" fill="none"/>
<path d="M197.22 318.64V324.14A2.85 3.10 0 0 0 202.92 324.14V318.64" stroke="#111" stroke-width="2.0" fill="none"/>
<path d="M196.77 317.99H203.37" stroke="#444" stroke-width="0.95" fill="none"/>
<path d="M213.49 328.64V318.84M210.29 322.64L213.49 318.34L216.69 322.64" stroke="#111" stroke-width="2.0" fill="none" stroke-linejoin="miter"/>
<path d="M224.07 318.64V324.14A2.85 3.10 0 0 0 229.77 324.14V318.64" stroke="#111" stroke-width="2.0" fill="none"/>
<path d="M223.62 317.99H230.22" stroke="#444" stroke-width="0.95" fill="none"/>
<path d="M236.44 322.44H244.24" stroke="#1c1c1c" stroke-width="1.5" fill="none"/>
<path d="M249.86 322.44H257.66" stroke="#1c1c1c" stroke-width="1.5" fill="none"/>
<path d="M263.28 322.44H271.08" stroke="#1c1c1c" stroke-width="1.5" fill="none"/>
<path d="M277.75 318.64V324.14A2.85 3.10 0 0 0 283.45 324.14V318.64" stroke="#111" stroke-width="2.0" fill="none"/>
<path d="M277.30 317.99H283.90" stroke="#444" stroke-width="0.95" fill="none"/>
<path d="M294.02 328.64V318.84M290.82 322.64L294.02 318.34L297.22 322.64" stroke="#111" stroke-width="2.0" fill="none" stroke-linejoin="miter"/>
<path d="M304.60 318.64V324.14A2.85 3.10 0 0 0 310.30 324.14V318.64" stroke="#111" stroke-width="2.0" fill="none"/>
<path d="M304.15 317.99H310.75" stroke="#444" stroke-width="0.95" fill="none"/>
<path d="M316.97 322.44H324.77" stroke="#1c1c1c" stroke-width="1.5" fill="none"/>
<path d="M330.69 322.24H337.89M334.29 318.34V326.14" stroke="#111" stroke-width="1.45" fill="none"/>
<path d="M35.41 335.66H42.61M39.01 331.76V339.56" stroke="#111" stroke-width="1.45" fill="none"/>
<path d="M48.53 335.86H56.33" stroke="#1c1c1c" stroke-width="1.5" fill="none"/>
<path d="M119.54 329.76V339.06M116.34 335.46L119.54 339.56L122.74 335.46" stroke="#111" stroke-width="2.0" fill="none" stroke-linejoin="miter"/>
<path d="M156.71 330.96V336.46A3.10 3.10 0 0 0 162.91 336.46V330.96" stroke="#111" stroke-width="1.9" fill="none"/>
<path d="M182.75 335.86H190.55" stroke="#1c1c1c" stroke-width="1.5" fill="none"/>
<path d="M236.44 335.86H244.24" stroke="#1c1c1c" stroke-width="1.5" fill="none"/>
<path d="M249.86 335.86H257.66" stroke="#1c1c1c" stroke-width="1.5" fill="none"/>
<path d="M263.28 335.86H271.08" stroke="#1c1c1c" stroke-width="1.5" fill="none"/>
<path d="M316.97 335.86H324.77" stroke="#1c1c1c" stroke-width="1.5" fill="none"/>
<path d="M330.69 335.66H337.89M334.29 331.76V339.56" stroke="#111" stroke-width="1.45" fill="none"/>
<path d="M35.41 349.09H42.61M39.01 345.19V352.99" stroke="#111" stroke-width="1.45" fill="none"/>
<path d="M48.53 349.29H56.33" stroke="#1c1c1c" stroke-width="1.5" fill="none"/>
<path d="M132.96 343.19V352.49M129.76 348.89L132.96 352.99L136.16 348.89" stroke="#111" stroke-width="2.0" fill="none" stroke-linejoin="miter"/>
<path d="M170.13 344.39V349.89A3.10 3.10 0 0 0 176.33 349.89V344.39" stroke="#111" stroke-width="1.9" fill="none"/>
<path d="M182.75 349.29H190.55" stroke="#1c1c1c" stroke-width="1.5" fill="none"/>
<path d="M197.22 345.49V350.99A2.85 3.10 0 0 0 202.92 350.99V345.49" stroke="#111" stroke-width="2.0" fill="none"/>
<path d="M196.77 344.84H203.37" stroke="#444" stroke-width="0.95" fill="none"/>
<path d="M213.49 355.49V345.69M210.29 349.49L213.49 345.19L216.69 349.49" stroke="#111" stroke-width="2.0" fill="none" stroke-linejoin="miter"/>
<path d="M224.07 345.49V350.99A2.85 3.10 0 0 0 229.77 350.99V345.49" stroke="#111" stroke-width="2.0" fill="none"/>
<path d="M223.62 344.84H230.22" stroke="#444" stroke-width="0.95" fill="none"/>
<path d="M236.44 349.29H244.24" stroke="#1c1c1c" stroke-width="1.5" fill="none"/>
<path d="M249.86 349.29H257.66" stroke="#1c1c1c" stroke-width="1.5" fill="none"/>
<path d="M263.28 349.29H271.08" stroke="#1c1c1c" stroke-width="1.5" fill="none"/>
<path d="M277.75 345.49V350.99A2.85 3.10 0 0 0 283.45 350.99V345.49" stroke="#111" stroke-width="2.0" fill="none"/>
<path d="M277.30 344.84H283.90" stroke="#444" stroke-width="0.95" fill="none"/>
<path d="M294.02 355.49V345.69M290.82 349.49L294.02 345.19L297.22 349.49" stroke="#111" stroke-width="2.0" fill="none" stroke-linejoin="miter"/>
<path d="M304.60 345.49V350.99A2.85 3.10 0 0 0 310.30 350.99V345.49" stroke="#111" stroke-width="2.0" fill="none"/>
<path d="M304.15 344.84H310.75" stroke="#444" stroke-width="0.95" fill="none"/>
<path d="M316.97 349.29H324.77" stroke="#1c1c1c" stroke-width="1.5" fill="none"/>
<path d="M330.69 349.09H337.89M334.29 345.19V352.99" stroke="#111" stroke-width="1.45" fill="none"/>
<path d="M35.41 362.51H42.61M39.01 358.61V366.41" stroke="#111" stroke-width="1.45" fill="none"/>
<path d="M48.53 362.71H56.33" stroke="#1c1c1c" stroke-width="1.5" fill="none"/>
<path d="M102.22 362.71H110.02" stroke="#1c1c1c" stroke-width="1.5" fill="none"/>
<path d="M115.64 362.71H123.44" stroke="#1c1c1c" stroke-width="1.5" fill="none"/>
<path d="M129.06 362.71H136.86" stroke="#1c1c1c" stroke-width="1.5" fill="none"/>
<path d="M182.75 362.71H190.55" stroke="#1c1c1c" stroke-width="1.5" fill="none"/>
<path d="M200.07 356.61V365.91M196.87 362.31L200.07 366.41L203.27 362.31" stroke="#111" stroke-width="2.0" fill="none" stroke-linejoin="miter"/>
<path d="M237.24 357.81V363.31A3.10 3.10 0 0 0 243.44 363.31V357.81" stroke="#111" stroke-width="1.9" fill="none"/>
<path d="M316.97 362.71H324.77" stroke="#1c1c1c" stroke-width="1.5" fill="none"/>
<path d="M330.69 362.51H337.89M334.29 358.61V366.41" stroke="#111" stroke-width="1.45" fill="none"/>
<path d="M35.41 375.94H42.61M39.01 372.04V379.84" stroke="#111" stroke-width="1.45" fill="none"/>
<path d="M48.53 376.14H56.33" stroke="#1c1c1c" stroke-width="1.5" fill="none"/>
<path d="M63.00 372.34V377.84A2.85 3.10 0 0 0 68.70 377.84V372.34" stroke="#111" stroke-width="2.0" fill="none"/>
<path d="M62.55 371.69H69.15" stroke="#444" stroke-width="0.95" fill="none"/>
<path d="M79.28 382.34V372.54M76.08 376.34L79.28 372.04L82.48 376.34" stroke="#111" stroke-width="2.0" fill="none" stroke-linejoin="miter"/>
<path d="M89.85 372.34V377.84A2.85 3.10 0 0 0 95.55 377.84V372.34" stroke="#111" stroke-width="2.0" fill="none"/>
<path d="M89.40 371.69H96.00" stroke="#444" stroke-width="0.95" fill="none"/>
<path d="M102.22 376.14H110.02" stroke="#1c1c1c" stroke-width="1.5" fill="none"/>
<path d="M115.64 376.14H123.44" stroke="#1c1c1c" stroke-width="1.5" fill="none"/>
<path d="M129.06 376.14H136.86" stroke="#1c1c1c" stroke-width="1.5" fill="none"/>
<path d="M143.53 372.34V377.84A2.85 3.10 0 0 0 149.23 377.84V372.34" stroke="#111" stroke-width="2.0" fill="none"/>
<path d="M143.08 371.69H149.68" stroke="#444" stroke-width="0.95" fill="none"/>
<path d="M159.81 382.34V372.54M156.61 376.34L159.81 372.04L163.01 376.34" stroke="#111" stroke-width="2.0" fill="none" stroke-linejoin="miter"/>
<path d="M170.38 372.34V377.84A2.85 3.10 0 0 0 176.08 377.84V372.34" stroke="#111" stroke-width="2.0" fill="none"/>
<path d="M169.93 371.69H176.53" stroke="#444" stroke-width="0.95" fill="none"/>
<path d="M182.75 376.14H190.55" stroke="#1c1c1c" stroke-width="1.5" fill="none"/>
<path d="M213.49 370.04V379.34M210.29 375.74L213.49 379.84L216.69 375.74" stroke="#111" stroke-width="2.0" fill="none" stroke-linejoin="miter"/>
<path d="M250.66 371.24V376.74A3.10 3.10 0 0 0 256.86 376.74V371.24" stroke="#111" stroke-width="1.9" fill="none"/>
<path d="M316.97 376.14H324.77" stroke="#1c1c1c" stroke-width="1.5" fill="none"/>
<path d="M330.69 375.94H337.89M334.29 372.04V379.84" stroke="#111" stroke-width="1.45" fill="none"/>
<path d="M35.41 389.36H42.61M39.01 385.46V393.26" stroke="#111" stroke-width="1.45" fill="none"/>
<path d="M48.53 389.56H56.33" stroke="#1c1c1c" stroke-width="1.5" fill="none"/>
<path d="M102.22 389.56H110.02" stroke="#1c1c1c" stroke-width="1.5" fill="none"/>
<path d="M115.64 389.56H123.44" stroke="#1c1c1c" stroke-width="1.5" fill="none"/>
<path d="M129.06 389.56H136.86" stroke="#1c1c1c" stroke-width="1.5" fill="none"/>
<path d="M182.75 389.56H190.55" stroke="#1c1c1c" stroke-width="1.5" fill="none"/>
<path d="M226.92 383.46V392.76M223.72 389.16L226.92 393.26L230.12 389.16" stroke="#111" stroke-width="2.0" fill="none" stroke-linejoin="miter"/>
<path d="M264.08 384.66V390.16A3.10 3.10 0 0 0 270.28 390.16V384.66" stroke="#111" stroke-width="1.9" fill="none"/>
<path d="M316.97 389.56H324.77" stroke="#1c1c1c" stroke-width="1.5" fill="none"/>
<path d="M330.69 389.36H337.89M334.29 385.46V393.26" stroke="#111" stroke-width="1.45" fill="none"/>
<path d="M35.41 402.79H42.61M39.01 398.89V406.69" stroke="#111" stroke-width="1.45" fill="none"/>
<path d="M48.53 402.99H56.33" stroke="#1c1c1c" stroke-width="1.5" fill="none"/>
<path d="M63.00 399.19V404.69A2.85 3.10 0 0 0 68.70 404.69V399.19" stroke="#111" stroke-width="2.0" fill="none"/>
<path d="M62.55 398.54H69.15" stroke="#444" stroke-width="0.95" fill="none"/>
<path d="M79.28 409.19V399.39M76.08 403.19L79.28 398.89L82.48 403.19" stroke="#111" stroke-width="2.0" fill="none" stroke-linejoin="miter"/>
<path d="M89.85 399.19V404.69A2.85 3.10 0 0 0 95.55 404.69V399.19" stroke="#111" stroke-width="2.0" fill="none"/>
<path d="M89.40 398.54H96.00" stroke="#444" stroke-width="0.95" fill="none"/>
<path d="M102.22 402.99H110.02" stroke="#1c1c1c" stroke-width="1.5" fill="none"/>
<path d="M115.64 402.99H123.44" stroke="#1c1c1c" stroke-width="1.5" fill="none"/>
<path d="M129.06 402.99H136.86" stroke="#1c1c1c" stroke-width="1.5" fill="none"/>
<path d="M143.53 399.19V404.69A2.85 3.10 0 0 0 149.23 404.69V399.19" stroke="#111" stroke-width="2.0" fill="none"/>
<path d="M143.08 398.54H149.68" stroke="#444" stroke-width="0.95" fill="none"/>
<path d="M159.81 409.19V399.39M156.61 403.19L159.81 398.89L163.01 403.19" stroke="#111" stroke-width="2.0" fill="none" stroke-linejoin="miter"/>
<path d="M170.38 399.19V404.69A2.85 3.10 0 0 0 176.08 404.69V399.19" stroke="#111" stroke-width="2.0" fill="none"/>
<path d="M169.93 398.54H176.53" stroke="#444" stroke-width="0.95" fill="none"/>
<path d="M182.75 402.99H190.55" stroke="#1c1c1c" stroke-width="1.5" fill="none"/>
<path d="M240.34 396.89V406.19M237.14 402.59L240.34 406.69L243.54 402.59" stroke="#111" stroke-width="2.0" fill="none" stroke-linejoin="miter"/>
<path d="M277.50 398.09V403.59A3.10 3.10 0 0 0 283.70 403.59V398.09" stroke="#111" stroke-width="1.9" fill="none"/>
<path d="M316.97 402.99H324.77" stroke="#1c1c1c" stroke-width="1.5" fill="none"/>
<path d="M330.69 402.79H337.89M334.29 398.89V406.69" stroke="#111" stroke-width="1.45" fill="none"/>
<path d="M35.41 416.21H42.61M39.01 412.31V420.11" stroke="#111" stroke-width="1.45" fill="none"/>
<path d="M48.53 416.41H56.33" stroke="#1c1c1c" stroke-width="1.5" fill="none"/>
<path d="M102.22 416.41H110.02" stroke="#1c1c1c" stroke-width="1.5" fill="none"/>
<path d="M115.64 416.41H123.44" stroke="#1c1c1c" stroke-width="1.5" fill="none"/>
<path d="M129.06 416.41H136.86" stroke="#1c1c1c" stroke-width="1.5" fill="none"/>
<path d="M182.75 416.41H190.55" stroke="#1c1c1c" stroke-width="1.5" fill="none"/>
<path d="M253.76 410.31V419.61M250.56 416.01L253.76 420.11L256.96 416.01" stroke="#111" stroke-width="2.0" fill="none" stroke-linejoin="miter"/>
<path d="M290.92 411.51V417.01A3.10 3.10 0 0 0 297.12 417.01V411.51" stroke="#111" stroke-width="1.9" fill="none"/>
<path d="M316.97 416.41H324.77" stroke="#1c1c1c" stroke-width="1.5" fill="none"/>
<path d="M330.69 416.21H337.89M334.29 412.31V420.11" stroke="#111" stroke-width="1.45" fill="none"/>
<path d="M35.41 429.64H42.61M39.01 425.74V433.54" stroke="#111" stroke-width="1.45" fill="none"/>
<path d="M48.53 429.84H56.33" stroke="#1c1c1c" stroke-width="1.5" fill="none"/>
<path d="M63.00 426.04V431.54A2.85 3.10 0 0 0 68.70 431.54V426.04" stroke="#111" stroke-width="2.0" fill="none"/>
<path d="M62.55 425.39H69.15" stroke="#444" stroke-width="0.95" fill="none"/>
<path d="M79.28 436.04V426.24M76.08 430.04L79.28 425.74L82.48 430.04" stroke="#111" stroke-width="2.0" fill="none" stroke-linejoin="miter"/>
<path d="M89.85 426.04V431.54A2.85 3.10 0 0 0 95.55 431.54V426.04" stroke="#111" stroke-width="2.0" fill="none"/>
<path d="M89.40 425.39H96.00" stroke="#444" stroke-width="0.95" fill="none"/>
<path d="M102.22 429.84H110.02" stroke="#1c1c1c" stroke-width="1.5" fill="none"/>
<path d="M115.64 429.84H123.44" stroke="#1c1c1c" stroke-width="1.5" fill="none"/>
<path d="M129.06 429.84H136.86" stroke="#1c1c1c" stroke-width="1.5" fill="none"/>
<path d="M143.53 426.04V431.54A2.85 3.10 0 0 0 149.23 431.54V426.04" stroke="#111" stroke-width="2.0" fill="none"/>
<path d="M143.08 425.39H149.68" stroke="#444" stroke-width="0.95" fill="none"/>
<path d="M159.81 436.04V426.24M156.61 430.04L159.81 425.74L163.01 430.04" stroke="#111" stroke-width="2.0" fill="none" stroke-linejoin="miter"/>
<path d="M170.38 426.04V431.54A2.85 3.10 0 0 0 176.08 431.54V426.04" stroke="#111" stroke-width="2.0" fill="none"/>
<path d="M169.93 425.39H176.53" stroke="#444" stroke-width="0.95" fill="none"/>
<path d="M182.75 429.84H190.55" stroke="#1c1c1c" stroke-width="1.5" fill="none"/>
<path d="M267.18 423.74V433.04M263.98 429.44L267.18 433.54L270.38 429.44" stroke="#111" stroke-width="2.0" fill="none" stroke-linejoin="miter"/>
<path d="M304.35 424.94V430.44A3.10 3.10 0 0 0 310.55 430.44V424.94" stroke="#111" stroke-width="1.9" fill="none"/>
<path d="M316.97 429.84H324.77" stroke="#1c1c1c" stroke-width="1.5" fill="none"/>
<path d="M330.69 429.64H337.89M334.29 425.74V433.54" stroke="#111" stroke-width="1.45" fill="none"/>
<path d="M35.41 443.06H42.61M39.01 439.16V446.96" stroke="#111" stroke-width="1.45" fill="none"/>
<path d="M48.53 443.26H56.33" stroke="#1c1c1c" stroke-width="1.5" fill="none"/>
<path d="M102.22 443.26H110.02" stroke="#1c1c1c" stroke-width="1.5" fill="none"/>
<path d="M115.64 443.26H123.44" stroke="#1c1c1c" stroke-width="1.5" fill="none"/>
<path d="M129.06 443.26H136.86" stroke="#1c1c1c" stroke-width="1.5" fill="none"/>
<path d="M182.75 443.26H190.55" stroke="#1c1c1c" stroke-width="1.5" fill="none"/>
<path d="M200.07 437.16V446.46M196.87 442.86L200.07 446.96L203.27 442.86" stroke="#111" stroke-width="2.0" fill="none" stroke-linejoin="miter"/>
<path d="M237.24 438.36V443.86A3.10 3.10 0 0 0 243.44 443.86V438.36" stroke="#111" stroke-width="1.9" fill="none"/>
<path d="M316.97 443.26H324.77" stroke="#1c1c1c" stroke-width="1.5" fill="none"/>
<path d="M330.69 443.06H337.89M334.29 439.16V446.96" stroke="#111" stroke-width="1.45" fill="none"/>
<path d="M35.41 456.49H42.61M39.01 452.59V460.39" stroke="#111" stroke-width="1.45" fill="none"/>
<path d="M48.53 456.69H56.33" stroke="#1c1c1c" stroke-width="1.5" fill="none"/>
<path d="M63.00 452.89V458.39A2.85 3.10 0 0 0 68.70 458.39V452.89" stroke="#111" stroke-width="2.0" fill="none"/>
<path d="M62.55 452.24H69.15" stroke="#444" stroke-width="0.95" fill="none"/>
<path d="M79.28 462.89V453.09M76.08 456.89L79.28 452.59L82.48 456.89" stroke="#111" stroke-width="2.0" fill="none" stroke-linejoin="miter"/>
<path d="M89.85 452.89V458.39A2.85 3.10 0 0 0 95.55 458.39V452.89" stroke="#111" stroke-width="2.0" fill="none"/>
<path d="M89.40 452.24H96.00" stroke="#444" stroke-width="0.95" fill="none"/>
<path d="M102.22 456.69H110.02" stroke="#1c1c1c" stroke-width="1.5" fill="none"/>
<path d="M115.64 456.69H123.44" stroke="#1c1c1c" stroke-width="1.5" fill="none"/>
<path d="M129.06 456.69H136.86" stroke="#1c1c1c" stroke-width="1.5" fill="none"/>
<path d="M143.53 452.89V458.39A2.85 3.10 0 0 0 149.23 458.39V452.89" stroke="#111" stroke-width="2.0" fill="none"/>
<path d="M143.08 452.24H149.68" stroke="#444" stroke-width="0.95" fill="none"/>
<path d="M159.81 462.89V453.09M156.61 456.89L159.81 452.59L163.01 456.89" stroke="#111" stroke-width="2.0" fill="none" stroke-linejoin="miter"/>
<path d="M170.38 452.89V458.39A2.85 3.10 0 0 0 176.08 458.39V452.89" stroke="#111" stroke-width="2.0" fill="none"/>
<path d="M169.93 452.24H176.53" stroke="#444" stroke-width="0.95" fill="none"/>
<path d="M182.75 456.69H190.55" stroke="#1c1c1c" stroke-width="1.5" fill="none"/>
<path d="M213.49 450.59V459.89M210.29 456.29L213.49 460.39L216.69 456.29" stroke="#111" stroke-width="2.0" fill="none" stroke-linejoin="miter"/>
<path d="M250.66 451.79V457.29A3.10 3.10 0 0 0 256.86 457.29V451.79" stroke="#111" stroke-width="1.9" fill="none"/>
<path d="M316.97 456.69H324.77" stroke="#1c1c1c" stroke-width="1.5" fill="none"/>
<path d="M330.69 456.49H337.89M334.29 452.59V460.39" stroke="#111" stroke-width="1.45" fill="none"/>
<path d="M35.41 469.91H42.61M39.01 466.01V473.81" stroke="#111" stroke-width="1.45" fill="none"/>
<path d="M48.53 470.11H56.33" stroke="#1c1c1c" stroke-width="1.5" fill="none"/>
<path d="M102.22 470.11H110.02" stroke="#1c1c1c" stroke-width="1.5" fill="none"/>
<path d="M115.64 470.11H123.44" stroke="#1c1c1c" stroke-width="1.5" fill="none"/>
<path d="M129.06 470.11H136.86" stroke="#1c1c1c" stroke-width="1.5" fill="none"/>
<path d="M182.75 470.11H190.55" stroke="#1c1c1c" stroke-width="1.5" fill="none"/>
<path d="M226.92 464.01V473.31M223.72 469.71L226.92 473.81L230.12 469.71" stroke="#111" stroke-width="2.0" fill="none" stroke-linejoin="miter"/>
<path d="M264.08 465.21V470.71A3.10 3.10 0 0 0 270.28 470.71V465.21" stroke="#111" stroke-width="1.9" fill="none"/>
<path d="M316.97 470.11H324.77" stroke="#1c1c1c" stroke-width="1.5" fill="none"/>
<path d="M330.69 469.91H337.89M334.29 466.01V473.81" stroke="#111" stroke-width="1.45" fill="none"/>
<path d="M35.41 483.34H42.61M39.01 479.44V487.24" stroke="#111" stroke-width="1.45" fill="none"/>
<path d="M48.53 483.54H56.33" stroke="#1c1c1c" stroke-width="1.5" fill="none"/>
<path d="M63.00 479.74V485.24A2.85 3.10 0 0 0 68.70 485.24V479.74" stroke="#111" stroke-width="2.0" fill="none"/>
<path d="M62.55 479.09H69.15" stroke="#444" stroke-width="0.95" fill="none"/>
<path d="M79.28 489.74V479.94M76.08 483.74L79.28 479.44L82.48 483.74" stroke="#111" stroke-width="2.0" fill="none" stroke-linejoin="miter"/>
<path d="M89.85 479.74V485.24A2.85 3.10 0 0 0 95.55 485.24V479.74" stroke="#111" stroke-width="2.0" fill="none"/>
<path d="M89.40 479.09H96.00" stroke="#444" stroke-width="0.95" fill="none"/>
<path d="M102.22 483.54H110.02" stroke="#1c1c1c" stroke-width="1.5" fill="none"/>
<path d="M115.64 483.54H123.44" stroke="#1c1c1c" stroke-width="1.5" fill="none"/>
<path d="M129.06 483.54H136.86" stroke="#1c1c1c" stroke-width="1.5" fill="none"/>
<path d="M143.53 479.74V485.24A2.85 3.10 0 0 0 149.23 485.24V479.74" stroke="#111" stroke-width="2.0" fill="none"/>
<path d="M143.08 479.09H149.68" stroke="#444" stroke-width="0.95" fill="none"/>
<path d="M159.81 489.74V479.94M156.61 483.74L159.81 479.44L163.01 483.74" stroke="#111" stroke-width="2.0" fill="none" stroke-linejoin="miter"/>
<path d="M170.38 479.74V485.24A2.85 3.10 0 0 0 176.08 485.24V479.74" stroke="#111" stroke-width="2.0" fill="none"/>
<path d="M169.93 479.09H176.53" stroke="#444" stroke-width="0.95" fill="none"/>
<path d="M182.75 483.54H190.55" stroke="#1c1c1c" stroke-width="1.5" fill="none"/>
<path d="M240.34 477.44V486.74M237.14 483.14L240.34 487.24L243.54 483.14" stroke="#111" stroke-width="2.0" fill="none" stroke-linejoin="miter"/>
<path d="M277.50 478.64V484.14A3.10 3.10 0 0 0 283.70 484.14V478.64" stroke="#111" stroke-width="1.9" fill="none"/>
<path d="M316.97 483.54H324.77" stroke="#1c1c1c" stroke-width="1.5" fill="none"/>
<path d="M330.69 483.34H337.89M334.29 479.44V487.24" stroke="#111" stroke-width="1.45" fill="none"/>
<path d="M35.41 496.76H42.61M39.01 492.86V500.66" stroke="#111" stroke-width="1.45" fill="none"/>
<path d="M48.53 496.96H56.33" stroke="#1c1c1c" stroke-width="1.5" fill="none"/>
<path d="M102.22 496.96H110.02" stroke="#1c1c1c" stroke-width="1.5" fill="none"/>
<path d="M115.64 496.96H123.44" stroke="#1c1c1c" stroke-width="1.5" fill="none"/>
<path d="M129.06 496.96H136.86" stroke="#1c1c1c" stroke-width="1.5" fill="none"/>
<path d="M182.75 496.96H190.55" stroke="#1c1c1c" stroke-width="1.5" fill="none"/>
<path d="M253.76 490.86V500.16M250.56 496.56L253.76 500.66L256.96 496.56" stroke="#111" stroke-width="2.0" fill="none" stroke-linejoin="miter"/>
<path d="M290.92 492.06V497.56A3.10 3.10 0 0 0 297.12 497.56V492.06" stroke="#111" stroke-width="1.9" fill="none"/>
<path d="M316.97 496.96H324.77" stroke="#1c1c1c" stroke-width="1.5" fill="none"/>
<path d="M330.69 496.76H337.89M334.29 492.86V500.66" stroke="#111" stroke-width="1.45" fill="none"/>
<path d="M35.41 510.19H42.61M39.01 506.29V514.09" stroke="#111" stroke-width="1.45" fill="none"/>
<path d="M48.53 510.39H56.33" stroke="#1c1c1c" stroke-width="1.5" fill="none"/>
<path d="M63.00 506.59V512.09A2.85 3.10 0 0 0 68.70 512.09V506.59" stroke="#111" stroke-width="2.0" fill="none"/>
<path d="M62.55 505.94H69.15" stroke="#444" stroke-width="0.95" fill="none"/>
<path d="M79.28 516.59V506.79M76.08 510.59L79.28 506.29L82.48 510.59" stroke="#111" stroke-width="2.0" fill="none" stroke-linejoin="miter"/>
<path d="M89.85 506.59V512.09A2.85 3.10 0 0 0 95.55 512.09V506.59" stroke="#111" stroke-width="2.0" fill="none"/>
<path d="M89.40 505.94H96.00" stroke="#444" stroke-width="0.95" fill="none"/>
<path d="M102.22 510.39H110.02" stroke="#1c1c1c" stroke-width="1.5" fill="none"/>
<path d="M115.64 510.39H123.44" stroke="#1c1c1c" stroke-width="1.5" fill="none"/>
<path d="M129.06 510.39H136.86" stroke="#1c1c1c" stroke-width="1.5" fill="none"/>
<path d="M143.53 506.59V512.09A2.85 3.10 0 0 0 149.23 512.09V506.59" stroke="#111" stroke-width="2.0" fill="none"/>
<path d="M143.08 505.94H149.68" stroke="#444" stroke-width="0.95" fill="none"/>
<path d="M159.81 516.59V506.79M156.61 510.59L159.81 506.29L163.01 510.59" stroke="#111" stroke-width="2.0" fill="none" stroke-linejoin="miter"/>
<path d="M170.38 506.59V512.09A2.85 3.10 0 0 0 176.08 512.09V506.59" stroke="#111" stroke-width="2.0" fill="none"/>
<path d="M169.93 505.94H176.53" stroke="#444" stroke-width="0.95" fill="none"/>
<path d="M182.75 510.39H190.55" stroke="#1c1c1c" stroke-width="1.5" fill="none"/>
<path d="M267.18 504.29V513.59M263.98 509.99L267.18 514.09L270.38 509.99" stroke="#111" stroke-width="2.0" fill="none" stroke-linejoin="miter"/>
<path d="M304.35 505.49V510.99A3.10 3.10 0 0 0 310.55 510.99V505.49" stroke="#111" stroke-width="1.9" fill="none"/>
<path d="M316.97 510.39H324.77" stroke="#1c1c1c" stroke-width="1.5" fill="none"/>
<path d="M330.69 510.19H337.89M334.29 506.29V514.09" stroke="#111" stroke-width="1.45" fill="none"/>
<path d="M35.41 523.61H42.61M39.01 519.71V527.51" stroke="#111" stroke-width="1.45" fill="none"/>
<path d="M48.53 523.81H56.33" stroke="#1c1c1c" stroke-width="1.5" fill="none"/>
<path d="M102.22 523.81H110.02" stroke="#1c1c1c" stroke-width="1.5" fill="none"/>
<path d="M115.64 523.81H123.44" stroke="#1c1c1c" stroke-width="1.5" fill="none"/>
<path d="M129.06 523.81H136.86" stroke="#1c1c1c" stroke-width="1.5" fill="none"/>
<path d="M182.75 523.81H190.55" stroke="#1c1c1c" stroke-width="1.5" fill="none"/>
<path d="M264.08 518.91V524.41A3.10 3.10 0 0 0 270.28 524.41V518.91" stroke="#111" stroke-width="1.9" fill="none"/>
<path d="M303.15 524.61L307.45 529.71L311.75 524.61M307.45 525.41V529.71" stroke="#222" stroke-width="1.1" fill="none"/>
<path d="M305.65 521.61C305.85 519.51 309.45 519.71 309.15 521.51C308.95 522.81 306.15 523.61 305.45 525.21H309.65" stroke="#222" stroke-width="1.15" fill="none"/>
<path d="M316.97 523.81H324.77" stroke="#1c1c1c" stroke-width="1.5" fill="none"/>
<path d="M330.69 523.61H337.89M334.29 519.71V527.51" stroke="#111" stroke-width="1.45" fill="none"/>
<path d="M35.41 537.04H42.61M39.01 533.14V540.94" stroke="#111" stroke-width="1.45" fill="none"/>
<path d="M48.53 537.24H56.33" stroke="#1c1c1c" stroke-width="1.5" fill="none"/>
<path d="M63.00 533.44V538.94A2.85 3.10 0 0 0 68.70 538.94V533.44" stroke="#111" stroke-width="2.0" fill="none"/>
<path d="M62.55 532.79H69.15" stroke="#444" stroke-width="0.95" fill="none"/>
<path d="M79.28 543.44V533.64M76.08 537.44L79.28 533.14L82.48 537.44" stroke="#111" stroke-width="2.0" fill="none" stroke-linejoin="miter"/>
<path d="M89.85 533.44V538.94A2.85 3.10 0 0 0 95.55 538.94V533.44" stroke="#111" stroke-width="2.0" fill="none"/>
<path d="M89.40 532.79H96.00" stroke="#444" stroke-width="0.95" fill="none"/>
<path d="M102.22 537.24H110.02" stroke="#1c1c1c" stroke-width="1.5" fill="none"/>
<path d="M115.64 537.24H123.44" stroke="#1c1c1c" stroke-width="1.5" fill="none"/>
<path d="M129.06 537.24H136.86" stroke="#1c1c1c" stroke-width="1.5" fill="none"/>
<path d="M143.53 533.44V538.94A2.85 3.10 0 0 0 149.23 538.94V533.44" stroke="#111" stroke-width="2.0" fill="none"/>
<path d="M143.08 532.79H149.68" stroke="#444" stroke-width="0.95" fill="none"/>
<path d="M159.81 543.44V533.64M156.61 537.44L159.81 533.14L163.01 537.44" stroke="#111" stroke-width="2.0" fill="none" stroke-linejoin="miter"/>
<path d="M170.38 533.44V538.94A2.85 3.10 0 0 0 176.08 538.94V533.44" stroke="#111" stroke-width="2.0" fill="none"/>
<path d="M169.93 532.79H176.53" stroke="#444" stroke-width="0.95" fill="none"/>
<path d="M182.75 537.24H190.55" stroke="#1c1c1c" stroke-width="1.5" fill="none"/>
<path d="M250.66 532.34V537.84A3.10 3.10 0 0 0 256.86 537.84V532.34" stroke="#111" stroke-width="1.9" fill="none"/>
<path d="M289.72 538.04L294.02 543.14L298.32 538.04M294.02 538.84V543.14" stroke="#222" stroke-width="1.1" fill="none"/>
<path d="M292.22 535.04C292.42 532.94 296.02 533.14 295.72 534.94C295.52 536.24 292.72 537.04 292.02 538.64H296.22" stroke="#222" stroke-width="1.15" fill="none"/>
<path d="M316.97 537.24H324.77" stroke="#1c1c1c" stroke-width="1.5" fill="none"/>
<path d="M330.69 537.04H337.89M334.29 533.14V540.94" stroke="#111" stroke-width="1.45" fill="none"/>
<path d="M35.41 550.46H42.61M39.01 546.56V554.36" stroke="#111" stroke-width="1.45" fill="none"/>
<path d="M48.53 550.66H56.33" stroke="#1c1c1c" stroke-width="1.5" fill="none"/>
<path d="M102.22 550.66H110.02" stroke="#1c1c1c" stroke-width="1.5" fill="none"/>
<path d="M115.64 550.66H123.44" stroke="#1c1c1c" stroke-width="1.5" fill="none"/>
<path d="M129.06 550.66H136.86" stroke="#1c1c1c" stroke-width="1.5" fill="none"/>
<path d="M182.75 550.66H190.55" stroke="#1c1c1c" stroke-width="1.5" fill="none"/>
<path d="M237.24 545.76V551.26A3.10 3.10 0 0 0 243.44 551.26V545.76" stroke="#111" stroke-width="1.9" fill="none"/>
<path d="M276.30 551.46L280.60 556.56L284.90 551.46M280.60 552.26V556.56" stroke="#222" stroke-width="1.1" fill="none"/>
<path d="M278.80 548.46C279.00 546.36 282.60 546.56 282.30 548.36C282.10 549.66 279.30 550.46 278.60 552.06H282.80" stroke="#222" stroke-width="1.15" fill="none"/>
<path d="M316.97 550.66H324.77" stroke="#1c1c1c" stroke-width="1.5" fill="none"/>
<path d="M330.69 550.46H337.89M334.29 546.56V554.36" stroke="#111" stroke-width="1.45" fill="none"/>
<path d="M35.41 563.89H42.61M39.01 559.99V567.79" stroke="#111" stroke-width="1.45" fill="none"/>
<path d="M48.53 564.09H56.33" stroke="#1c1c1c" stroke-width="1.5" fill="none"/>
<path d="M63.00 560.29V565.79A2.85 3.10 0 0 0 68.70 565.79V560.29" stroke="#111" stroke-width="2.0" fill="none"/>
<path d="M62.55 559.64H69.15" stroke="#444" stroke-width="0.95" fill="none"/>
<path d="M79.28 570.29V560.49M76.08 564.29L79.28 559.99L82.48 564.29" stroke="#111" stroke-width="2.0" fill="none" stroke-linejoin="miter"/>
<path d="M89.85 560.29V565.79A2.85 3.10 0 0 0 95.55 565.79V560.29" stroke="#111" stroke-width="2.0" fill="none"/>
<path d="M89.40 559.64H96.00" stroke="#444" stroke-width="0.95" fill="none"/>
<path d="M102.22 564.09H110.02" stroke="#1c1c1c" stroke-width="1.5" fill="none"/>
<path d="M115.64 564.09H123.44" stroke="#1c1c1c" stroke-width="1.5" fill="none"/>
<path d="M129.06 564.09H136.86" stroke="#1c1c1c" stroke-width="1.5" fill="none"/>
<path d="M143.53 560.29V565.79A2.85 3.10 0 0 0 149.23 565.79V560.29" stroke="#111" stroke-width="2.0" fill="none"/>
<path d="M143.08 559.64H149.68" stroke="#444" stroke-width="0.95" fill="none"/>
<path d="M159.81 570.29V560.49M156.61 564.29L159.81 559.99L163.01 564.29" stroke="#111" stroke-width="2.0" fill="none" stroke-linejoin="miter"/>
<path d="M170.38 560.29V565.79A2.85 3.10 0 0 0 176.08 565.79V560.29" stroke="#111" stroke-width="2.0" fill="none"/>
<path d="M169.93 559.64H176.53" stroke="#444" stroke-width="0.95" fill="none"/>
<path d="M182.75 564.09H190.55" stroke="#1c1c1c" stroke-width="1.5" fill="none"/>
<path d="M223.82 559.19V564.69A3.10 3.10 0 0 0 230.02 564.69V559.19" stroke="#111" stroke-width="1.9" fill="none"/>
<path d="M262.88 564.89L267.18 569.99L271.48 564.89M267.18 565.69V569.99" stroke="#222" stroke-width="1.1" fill="none"/>
<path d="M265.38 561.89C265.58 559.79 269.18 559.99 268.88 561.79C268.68 563.09 265.88 563.89 265.18 565.49H269.38" stroke="#222" stroke-width="1.15" fill="none"/>
<path d="M316.97 564.09H324.77" stroke="#1c1c1c" stroke-width="1.5" fill="none"/>
<path d="M330.69 563.89H337.89M334.29 559.99V567.79" stroke="#111" stroke-width="1.45" fill="none"/>
<path d="M35.41 577.31H42.61M39.01 573.41V581.21" stroke="#111" stroke-width="1.45" fill="none"/>
<path d="M48.53 577.51H56.33" stroke="#1c1c1c" stroke-width="1.5" fill="none"/>
<path d="M102.22 577.51H110.02" stroke="#1c1c1c" stroke-width="1.5" fill="none"/>
<path d="M115.64 577.51H123.44" stroke="#1c1c1c" stroke-width="1.5" fill="none"/>
<path d="M129.06 577.51H136.86" stroke="#1c1c1c" stroke-width="1.5" fill="none"/>
<path d="M182.75 577.51H190.55" stroke="#1c1c1c" stroke-width="1.5" fill="none"/>
<path d="M210.39 572.61V578.11A3.10 3.10 0 0 0 216.59 578.11V572.61" stroke="#111" stroke-width="1.9" fill="none"/>
<path d="M249.46 578.31L253.76 583.41L258.06 578.31M253.76 579.11V583.41" stroke="#222" stroke-width="1.1" fill="none"/>
<path d="M251.96 575.31C252.16 573.21 255.76 573.41 255.46 575.21C255.26 576.51 252.46 577.31 251.76 578.91H255.96" stroke="#222" stroke-width="1.15" fill="none"/>
<path d="M316.97 577.51H324.77" stroke="#1c1c1c" stroke-width="1.5" fill="none"/>
<path d="M330.69 577.31H337.89M334.29 573.41V581.21" stroke="#111" stroke-width="1.45" fill="none"/>
<path d="M35.41 590.74H42.61M39.01 586.84V594.64" stroke="#111" stroke-width="1.45" fill="none"/>
<path d="M48.53 590.94H56.33" stroke="#1c1c1c" stroke-width="1.5" fill="none"/>
<path d="M63.00 587.14V592.64A2.85 3.10 0 0 0 68.70 592.64V587.14" stroke="#111" stroke-width="2.0" fill="none"/>
<path d="M62.55 586.49H69.15" stroke="#444" stroke-width="0.95" fill="none"/>
<path d="M79.28 597.14V587.34M76.08 591.14L79.28 586.84L82.48 591.14" stroke="#111" stroke-width="2.0" fill="none" stroke-linejoin="miter"/>
<path d="M89.85 587.14V592.64A2.85 3.10 0 0 0 95.55 592.64V587.14" stroke="#111" stroke-width="2.0" fill="none"/>
<path d="M89.40 586.49H96.00" stroke="#444" stroke-width="0.95" fill="none"/>
<path d="M102.22 590.94H110.02" stroke="#1c1c1c" stroke-width="1.5" fill="none"/>
<path d="M115.64 590.94H123.44" stroke="#1c1c1c" stroke-width="1.5" fill="none"/>
<path d="M129.06 590.94H136.86" stroke="#1c1c1c" stroke-width="1.5" fill="none"/>
<path d="M143.53 587.14V592.64A2.85 3.10 0 0 0 149.23 592.64V587.14" stroke="#111" stroke-width="2.0" fill="none"/>
<path d="M143.08 586.49H149.68" stroke="#444" stroke-width="0.95" fill="none"/>
<path d="M159.81 597.14V587.34M156.61 591.14L159.81 586.84L163.01 591.14" stroke="#111" stroke-width="2.0" fill="none" stroke-linejoin="miter"/>
<path d="M170.38 587.14V592.64A2.85 3.10 0 0 0 176.08 592.64V587.14" stroke="#111" stroke-width="2.0" fill="none"/>
<path d="M169.93 586.49H176.53" stroke="#444" stroke-width="0.95" fill="none"/>
<path d="M182.75 590.94H190.55" stroke="#1c1c1c" stroke-width="1.5" fill="none"/>
<path d="M196.97 586.04V591.54A3.10 3.10 0 0 0 203.17 591.54V586.04" stroke="#111" stroke-width="1.9" fill="none"/>
<path d="M236.04 591.74L240.34 596.84L244.64 591.74M240.34 592.54V596.84" stroke="#222" stroke-width="1.1" fill="none"/>
<path d="M238.54 588.74C238.74 586.64 242.34 586.84 242.04 588.64C241.84 589.94 239.04 590.74 238.34 592.34H242.54" stroke="#222" stroke-width="1.15" fill="none"/>
<path d="M316.97 590.94H324.77" stroke="#1c1c1c" stroke-width="1.5" fill="none"/>
<path d="M330.69 590.74H337.89M334.29 586.84V594.64" stroke="#111" stroke-width="1.45" fill="none"/>
<path d="M35.41 604.16H42.61M39.01 600.26V608.06" stroke="#111" stroke-width="1.45" fill="none"/>
<path d="M48.53 604.36H56.33" stroke="#1c1c1c" stroke-width="1.5" fill="none"/>
<path d="M102.22 604.36H110.02" stroke="#1c1c1c" stroke-width="1.5" fill="none"/>
<path d="M115.64 604.36H123.44" stroke="#1c1c1c" stroke-width="1.5" fill="none"/>
<path d="M129.06 604.36H136.86" stroke="#1c1c1c" stroke-width="1.5" fill="none"/>
<path d="M182.75 604.36H190.55" stroke="#1c1c1c" stroke-width="1.5" fill="none"/>
<path d="M264.08 599.46V604.96A3.10 3.10 0 0 0 270.28 604.96V599.46" stroke="#111" stroke-width="1.9" fill="none"/>
<path d="M303.15 605.16L307.45 610.26L311.75 605.16M307.45 605.96V610.26" stroke="#222" stroke-width="1.1" fill="none"/>
<path d="M305.65 602.16C305.85 600.06 309.45 600.26 309.15 602.06C308.95 603.36 306.15 604.16 305.45 605.76H309.65" stroke="#222" stroke-width="1.15" fill="none"/>
<path d="M316.97 604.36H324.77" stroke="#1c1c1c" stroke-width="1.5" fill="none"/>
<path d="M330.69 604.16H337.89M334.29 600.26V608.06" stroke="#111" stroke-width="1.45" fill="none"/>
<path d="M35.41 617.59H42.61M39.01 613.69V621.49" stroke="#111" stroke-width="1.45" fill="none"/>
<path d="M48.53 617.79H56.33" stroke="#1c1c1c" stroke-width="1.5" fill="none"/>
<path d="M63.00 613.99V619.49A2.85 3.10 0 0 0 68.70 619.49V613.99" stroke="#111" stroke-width="2.0" fill="none"/>
<path d="M62.55 613.34H69.15" stroke="#444" stroke-width="0.95" fill="none"/>
<path d="M79.28 623.99V614.19M76.08 617.99L79.28 613.69L82.48 617.99" stroke="#111" stroke-width="2.0" fill="none" stroke-linejoin="miter"/>
<path d="M89.85 613.99V619.49A2.85 3.10 0 0 0 95.55 619.49V613.99" stroke="#111" stroke-width="2.0" fill="none"/>
<path d="M89.40 613.34H96.00" stroke="#444" stroke-width="0.95" fill="none"/>
<path d="M102.22 617.79H110.02" stroke="#1c1c1c" stroke-width="1.5" fill="none"/>
<path d="M115.64 617.79H123.44" stroke="#1c1c1c" stroke-width="1.5" fill="none"/>
<path d="M129.06 617.79H136.86" stroke="#1c1c1c" stroke-width="1.5" fill="none"/>
<path d="M143.53 613.99V619.49A2.85 3.10 0 0 0 149.23 619.49V613.99" stroke="#111" stroke-width="2.0" fill="none"/>
<path d="M143.08 613.34H149.68" stroke="#444" stroke-width="0.95" fill="none"/>
<path d="M159.81 623.99V614.19M156.61 617.99L159.81 613.69L163.01 617.99" stroke="#111" stroke-width="2.0" fill="none" stroke-linejoin="miter"/>
<path d="M170.38 613.99V619.49A2.85 3.10 0 0 0 176.08 619.49V613.99" stroke="#111" stroke-width="2.0" fill="none"/>
<path d="M169.93 613.34H176.53" stroke="#444" stroke-width="0.95" fill="none"/>
<path d="M182.75 617.79H190.55" stroke="#1c1c1c" stroke-width="1.5" fill="none"/>
<path d="M250.66 612.89V618.39A3.10 3.10 0 0 0 256.86 618.39V612.89" stroke="#111" stroke-width="1.9" fill="none"/>
<path d="M289.72 618.59L294.02 623.69L298.32 618.59M294.02 619.39V623.69" stroke="#222" stroke-width="1.1" fill="none"/>
<path d="M292.22 615.59C292.42 613.49 296.02 613.69 295.72 615.49C295.52 616.79 292.72 617.59 292.02 619.19H296.22" stroke="#222" stroke-width="1.15" fill="none"/>
<path d="M316.97 617.79H324.77" stroke="#1c1c1c" stroke-width="1.5" fill="none"/>
<path d="M330.69 617.59H337.89M334.29 613.69V621.49" stroke="#111" stroke-width="1.45" fill="none"/>
<path d="M35.41 631.01H42.61M39.01 627.11V634.91" stroke="#111" stroke-width="1.45" fill="none"/>
<path d="M48.53 631.21H56.33" stroke="#1c1c1c" stroke-width="1.5" fill="none"/>
<path d="M102.22 631.21H110.02" stroke="#1c1c1c" stroke-width="1.5" fill="none"/>
<path d="M115.64 631.21H123.44" stroke="#1c1c1c" stroke-width="1.5" fill="none"/>
<path d="M129.06 631.21H136.86" stroke="#1c1c1c" stroke-width="1.5" fill="none"/>
<path d="M182.75 631.21H190.55" stroke="#1c1c1c" stroke-width="1.5" fill="none"/>
<path d="M237.24 626.31V631.81A3.10 3.10 0 0 0 243.44 631.81V626.31" stroke="#111" stroke-width="1.9" fill="none"/>
<path d="M276.30 632.01L280.60 637.11L284.90 632.01M280.60 632.81V637.11" stroke="#222" stroke-width="1.1" fill="none"/>
<path d="M278.80 629.01C279.00 626.91 282.60 627.11 282.30 628.91C282.10 630.21 279.30 631.01 278.60 632.61H282.80" stroke="#222" stroke-width="1.15" fill="none"/>
<path d="M316.97 631.21H324.77" stroke="#1c1c1c" stroke-width="1.5" fill="none"/>
<path d="M330.69 631.01H337.89M334.29 627.11V634.91" stroke="#111" stroke-width="1.45" fill="none"/>
<path d="M35.41 644.44H42.61M39.01 640.54V648.34" stroke="#111" stroke-width="1.45" fill="none"/>
<path d="M48.53 644.64H56.33" stroke="#1c1c1c" stroke-width="1.5" fill="none"/>
<path d="M63.00 640.84V646.34A2.85 3.10 0 0 0 68.70 646.34V640.84" stroke="#111" stroke-width="2.0" fill="none"/>
<path d="M62.55 640.19H69.15" stroke="#444" stroke-width="0.95" fill="none"/>
<path d="M79.28 650.84V641.04M76.08 644.84L79.28 640.54L82.48 644.84" stroke="#111" stroke-width="2.0" fill="none" stroke-linejoin="miter"/>
<path d="M89.85 640.84V646.34A2.85 3.10 0 0 0 95.55 646.34V640.84" stroke="#111" stroke-width="2.0" fill="none"/>
<path d="M89.40 640.19H96.00" stroke="#444" stroke-width="0.95" fill="none"/>
<path d="M102.22 644.64H110.02" stroke="#1c1c1c" stroke-width="1.5" fill="none"/>
<path d="M115.64 644.64H123.44" stroke="#1c1c1c" stroke-width="1.5" fill="none"/>
<path d="M129.06 644.64H136.86" stroke="#1c1c1c" stroke-width="1.5" fill="none"/>
<path d="M143.53 640.84V646.34A2.85 3.10 0 0 0 149.23 646.34V640.84" stroke="#111" stroke-width="2.0" fill="none"/>
<path d="M143.08 640.19H149.68" stroke="#444" stroke-width="0.95" fill="none"/>
<path d="M159.81 650.84V641.04M156.61 644.84L159.81 640.54L163.01 644.84" stroke="#111" stroke-width="2.0" fill="none" stroke-linejoin="miter"/>
<path d="M170.38 640.84V646.34A2.85 3.10 0 0 0 176.08 646.34V640.84" stroke="#111" stroke-width="2.0" fill="none"/>
<path d="M169.93 640.19H176.53" stroke="#444" stroke-width="0.95" fill="none"/>
<path d="M182.75 644.64H190.55" stroke="#1c1c1c" stroke-width="1.5" fill="none"/>
<path d="M223.82 639.74V645.24A3.10 3.10 0 0 0 230.02 645.24V639.74" stroke="#111" stroke-width="1.9" fill="none"/>
<path d="M262.88 645.44L267.18 650.54L271.48 645.44M267.18 646.24V650.54" stroke="#222" stroke-width="1.1" fill="none"/>
<path d="M265.38 642.44C265.58 640.34 269.18 640.54 268.88 642.34C268.68 643.64 265.88 644.44 265.18 646.04H269.38" stroke="#222" stroke-width="1.15" fill="none"/>
<path d="M316.97 644.64H324.77" stroke="#1c1c1c" stroke-width="1.5" fill="none"/>
<path d="M330.69 644.44H337.89M334.29 640.54V648.34" stroke="#111" stroke-width="1.45" fill="none"/>
<path d="M35.41 657.86H42.61M39.01 653.96V661.76" stroke="#111" stroke-width="1.45" fill="none"/>
<path d="M48.53 658.06H56.33" stroke="#1c1c1c" stroke-width="1.5" fill="none"/>
<path d="M102.22 658.06H110.02" stroke="#1c1c1c" stroke-width="1.5" fill="none"/>
<path d="M115.64 658.06H123.44" stroke="#1c1c1c" stroke-width="1.5" fill="none"/>
<path d="M129.06 658.06H136.86" stroke="#1c1c1c" stroke-width="1.5" fill="none"/>
<path d="M182.75 658.06H190.55" stroke="#1c1c1c" stroke-width="1.5" fill="none"/>
<path d="M210.39 653.16V658.66A3.10 3.10 0 0 0 216.59 658.66V653.16" stroke="#111" stroke-width="1.9" fill="none"/>
<path d="M249.46 658.86L253.76 663.96L258.06 658.86M253.76 659.66V663.96" stroke="#222" stroke-width="1.1" fill="none"/>
<path d="M251.96 655.86C252.16 653.76 255.76 653.96 255.46 655.76C255.26 657.06 252.46 657.86 251.76 659.46H255.96" stroke="#222" stroke-width="1.15" fill="none"/>
<path d="M316.97 658.06H324.77" stroke="#1c1c1c" stroke-width="1.5" fill="none"/>
<path d="M330.69 657.86H337.89M334.29 653.96V661.76" stroke="#111" stroke-width="1.45" fill="none"/>
<path d="M35.41 671.29H42.61M39.01 667.39V675.19" stroke="#111" stroke-width="1.45" fill="none"/>
<path d="M48.53 671.49H56.33" stroke="#1c1c1c" stroke-width="1.5" fill="none"/>
<path d="M63.00 667.69V673.19A2.85 3.10 0 0 0 68.70 673.19V667.69" stroke="#111" stroke-width="2.0" fill="none"/>
<path d="M62.55 667.04H69.15" stroke="#444" stroke-width="0.95" fill="none"/>
<path d="M79.28 677.69V667.89M76.08 671.69L79.28 667.39L82.48 671.69" stroke="#111" stroke-width="2.0" fill="none" stroke-linejoin="miter"/>
<path d="M89.85 667.69V673.19A2.85 3.10 0 0 0 95.55 673.19V667.69" stroke="#111" stroke-width="2.0" fill="none"/>
<path d="M89.40 667.04H96.00" stroke="#444" stroke-width="0.95" fill="none"/>
<path d="M102.22 671.49H110.02" stroke="#1c1c1c" stroke-width="1.5" fill="none"/>
<path d="M115.64 671.49H123.44" stroke="#1c1c1c" stroke-width="1.5" fill="none"/>
<path d="M129.06 671.49H136.86" stroke="#1c1c1c" stroke-width="1.5" fill="none"/>
<path d="M143.53 667.69V673.19A2.85 3.10 0 0 0 149.23 673.19V667.69" stroke="#111" stroke-width="2.0" fill="none"/>
<path d="M143.08 667.04H149.68" stroke="#444" stroke-width="0.95" fill="none"/>
<path d="M159.81 677.69V667.89M156.61 671.69L159.81 667.39L163.01 671.69" stroke="#111" stroke-width="2.0" fill="none" stroke-linejoin="miter"/>
<path d="M170.38 667.69V673.19A2.85 3.10 0 0 0 176.08 673.19V667.69" stroke="#111" stroke-width="2.0" fill="none"/>
<path d="M169.93 667.04H176.53" stroke="#444" stroke-width="0.95" fill="none"/>
<path d="M182.75 671.49H190.55" stroke="#1c1c1c" stroke-width="1.5" fill="none"/>
<path d="M196.97 666.59V672.09A3.10 3.10 0 0 0 203.17 672.09V666.59" stroke="#111" stroke-width="1.9" fill="none"/>
<path d="M236.04 672.29L240.34 677.39L244.64 672.29M240.34 673.09V677.39" stroke="#222" stroke-width="1.1" fill="none"/>
<path d="M238.54 669.29C238.74 667.19 242.34 667.39 242.04 669.19C241.84 670.49 239.04 671.29 238.34 672.89H242.54" stroke="#222" stroke-width="1.15" fill="none"/>
<path d="M316.97 671.49H324.77" stroke="#1c1c1c" stroke-width="1.5" fill="none"/>
<path d="M330.69 671.29H337.89M334.29 667.39V675.19" stroke="#111" stroke-width="1.45" fill="none"/>
<path d="M59.14 678.00V690" stroke="#111" stroke-width="1.3" fill="none"/>
<path d="M57.44 683.60L59.14 679.00L60.84 683.60Z" fill="#111" stroke="#111" stroke-width="0.7"/>
<path d="M327.58 678.00V690" stroke="#111" stroke-width="1.3" fill="none"/>
<path d="M325.88 683.60L327.58 679.00L329.28 683.60Z" fill="#111" stroke="#111" stroke-width="0.7"/>
</g>
<g font-family="'Liberation Sans', sans-serif">
<text transform="translate(31.90 28.30) scale(0.7437 1)" font-size="16.8" font-weight="bold" font-style="italic" fill="#000" stroke="#000" stroke-width="1.25">Схема</text>
<text transform="translate(348.04 45.51) scale(0.9450 1)" font-size="14.6" font-weight="normal" font-style="normal" fill="#111" stroke="#111" stroke-width="0.45">95</text>
<text transform="translate(348.01 58.94) scale(0.9450 1)" font-size="14.6" font-weight="normal" font-style="normal" fill="#111" stroke="#111" stroke-width="0.45">93</text>
<g transform="translate(347.99 72.36) scale(0.9450 1)" font-size="14.6" font-weight="normal" font-style="normal" fill="#111" stroke="#111" stroke-width="0.45"><text x="0.00" xml:space="preserve">9</text><path d="M11.79 0.00L11.79 -8.82L9.52 -7.20L9.52 -8.41L11.90 -10.04L13.08 -10.04L13.08 0.00Z"/></g>
<text transform="translate(347.96 85.79) scale(0.9450 1)" font-size="14.6" font-weight="normal" font-style="normal" fill="#111" stroke="#111" stroke-width="0.45">89</text>
<text transform="translate(347.93 99.21) scale(0.9450 1)" font-size="14.6" font-weight="normal" font-style="normal" fill="#111" stroke="#111" stroke-width="0.45">87</text>
<text transform="translate(347.90 112.64) scale(0.9450 1)" font-size="14.6" font-weight="normal" font-style="normal" fill="#111" stroke="#111" stroke-width="0.45">85</text>
<text transform="translate(347.88 126.06) scale(0.9450 1)" font-size="14.6" font-weight="normal" font-style="normal" fill="#111" stroke="#111" stroke-width="0.45">83</text>
<g transform="translate(347.85 139.49) scale(0.9450 1)" font-size="14.6" font-weight="normal" font-style="normal" fill="#111" stroke="#111" stroke-width="0.45"><text x="0.00" xml:space="preserve">8</text><path d="M11.79 0.00L11.79 -8.82L9.52 -7.20L9.52 -8.41L11.90 -10.04L13.08 -10.04L13.08 0.00Z"/></g>
<text transform="translate(347.82 152.91) scale(0.9450 1)" font-size="14.6" font-weight="normal" font-style="normal" fill="#111" stroke="#111" stroke-width="0.45">79</text>
<text transform="translate(347.80 166.34) scale(0.9450 1)" font-size="14.6" font-weight="normal" font-style="normal" fill="#111" stroke="#111" stroke-width="0.45">77</text>
<text transform="translate(347.77 179.76) scale(0.9450 1)" font-size="14.6" font-weight="normal" font-style="normal" fill="#111" stroke="#111" stroke-width="0.45">75</text>
<text transform="translate(347.74 193.19) scale(0.9450 1)" font-size="14.6" font-weight="normal" font-style="normal" fill="#111" stroke="#111" stroke-width="0.45">73</text>
<g transform="translate(347.71 206.61) scale(0.9450 1)" font-size="14.6" font-weight="normal" font-style="normal" fill="#111" stroke="#111" stroke-width="0.45"><text x="0.00" xml:space="preserve">7</text><path d="M11.79 0.00L11.79 -8.82L9.52 -7.20L9.52 -8.41L11.90 -10.04L13.08 -10.04L13.08 0.00Z"/></g>
<text transform="translate(347.69 220.04) scale(0.9450 1)" font-size="14.6" font-weight="normal" font-style="normal" fill="#111" stroke="#111" stroke-width="0.45">69</text>
<text transform="translate(347.66 233.46) scale(0.9450 1)" font-size="14.6" font-weight="normal" font-style="normal" fill="#111" stroke="#111" stroke-width="0.45">67</text>
<text transform="translate(347.63 246.89) scale(0.9450 1)" font-size="14.6" font-weight="normal" font-style="normal" fill="#111" stroke="#111" stroke-width="0.45">65</text>
<text transform="translate(347.61 260.31) scale(0.9450 1)" font-size="14.6" font-weight="normal" font-style="normal" fill="#111" stroke="#111" stroke-width="0.45">63</text>
<g transform="translate(347.58 273.74) scale(0.9450 1)" font-size="14.6" font-weight="normal" font-style="normal" fill="#111" stroke="#111" stroke-width="0.45"><text x="0.00" xml:space="preserve">6</text><path d="M11.79 0.00L11.79 -8.82L9.52 -7.20L9.52 -8.41L11.90 -10.04L13.08 -10.04L13.08 0.00Z"/></g>
<text transform="translate(347.55 287.16) scale(0.9450 1)" font-size="14.6" font-weight="normal" font-style="normal" fill="#111" stroke="#111" stroke-width="0.45">59</text>
<text transform="translate(347.53 300.59) scale(0.9450 1)" font-size="14.6" font-weight="normal" font-style="normal" fill="#111" stroke="#111" stroke-width="0.45">57</text>
<text transform="translate(347.50 314.01) scale(0.9450 1)" font-size="14.6" font-weight="normal" font-style="normal" fill="#111" stroke="#111" stroke-width="0.45">55</text>
<text transform="translate(347.47 327.44) scale(0.9450 1)" font-size="14.6" font-weight="normal" font-style="normal" fill="#111" stroke="#111" stroke-width="0.45">53</text>
<g transform="translate(347.44 340.86) scale(0.9450 1)" font-size="14.6" font-weight="normal" font-style="normal" fill="#111" stroke="#111" stroke-width="0.45"><text x="0.00" xml:space="preserve">5</text><path d="M11.79 0.00L11.79 -8.82L9.52 -7.20L9.52 -8.41L11.90 -10.04L13.08 -10.04L13.08 0.00Z"/></g>
<text transform="translate(347.42 354.29) scale(0.9450 1)" font-size="14.6" font-weight="normal" font-style="normal" fill="#111" stroke="#111" stroke-width="0.45">49</text>
<text transform="translate(347.39 367.71) scale(0.9450 1)" font-size="14.6" font-weight="normal" font-style="normal" fill="#111" stroke="#111" stroke-width="0.45">47</text>
<text transform="translate(347.36 381.14) scale(0.9450 1)" font-size="14.6" font-weight="normal" font-style="normal" fill="#111" stroke="#111" stroke-width="0.45">45</text>
<text transform="translate(347.34 394.56) scale(0.9450 1)" font-size="14.6" font-weight="normal" font-style="normal" fill="#111" stroke="#111" stroke-width="0.45">43</text>
<g transform="translate(347.31 407.99) scale(0.9450 1)" font-size="14.6" font-weight="normal" font-style="normal" fill="#111" stroke="#111" stroke-width="0.45"><text x="0.00" xml:space="preserve">4</text><path d="M11.79 0.00L11.79 -8.82L9.52 -7.20L9.52 -8.41L11.90 -10.04L13.08 -10.04L13.08 0.00Z"/></g>
<text transform="translate(347.28 421.41) scale(0.9450 1)" font-size="14.6" font-weight="normal" font-style="normal" fill="#111" stroke="#111" stroke-width="0.45">39</text>
<text transform="translate(347.25 434.84) scale(0.9450 1)" font-size="14.6" font-weight="normal" font-style="normal" fill="#111" stroke="#111" stroke-width="0.45">37</text>
<text transform="translate(347.23 448.26) scale(0.9450 1)" font-size="14.6" font-weight="normal" font-style="normal" fill="#111" stroke="#111" stroke-width="0.45">35</text>
<text transform="translate(347.20 461.69) scale(0.9450 1)" font-size="14.6" font-weight="normal" font-style="normal" fill="#111" stroke="#111" stroke-width="0.45">33</text>
<g transform="translate(347.17 475.11) scale(0.9450 1)" font-size="14.6" font-weight="normal" font-style="normal" fill="#111" stroke="#111" stroke-width="0.45"><text x="0.00" xml:space="preserve">3</text><path d="M11.79 0.00L11.79 -8.82L9.52 -7.20L9.52 -8.41L11.90 -10.04L13.08 -10.04L13.08 0.00Z"/></g>
<text transform="translate(347.15 488.54) scale(0.9450 1)" font-size="14.6" font-weight="normal" font-style="normal" fill="#111" stroke="#111" stroke-width="0.45">29</text>
<text transform="translate(347.12 501.96) scale(0.9450 1)" font-size="14.6" font-weight="normal" font-style="normal" fill="#111" stroke="#111" stroke-width="0.45">27</text>
<text transform="translate(347.09 515.39) scale(0.9450 1)" font-size="14.6" font-weight="normal" font-style="normal" fill="#111" stroke="#111" stroke-width="0.45">25</text>
<text transform="translate(347.06 528.81) scale(0.9450 1)" font-size="14.6" font-weight="normal" font-style="normal" fill="#111" stroke="#111" stroke-width="0.45">23</text>
<g transform="translate(347.04 542.24) scale(0.9450 1)" font-size="14.6" font-weight="normal" font-style="normal" fill="#111" stroke="#111" stroke-width="0.45"><text x="0.00" xml:space="preserve">2</text><path d="M11.79 0.00L11.79 -8.82L9.52 -7.20L9.52 -8.41L11.90 -10.04L13.08 -10.04L13.08 0.00Z"/></g>
<g transform="translate(347.01 555.66) scale(0.9450 1)" font-size="14.6" font-weight="normal" font-style="normal" fill="#111" stroke="#111" stroke-width="0.45"><path d="M3.67 0.00L3.67 -8.82L1.40 -7.20L1.40 -8.41L3.78 -10.04L4.96 -10.04L4.96 0.00Z"/><text x="8.12" xml:space="preserve">9</text></g>
<g transform="translate(346.98 569.09) scale(0.9450 1)" font-size="14.6" font-weight="normal" font-style="normal" fill="#111" stroke="#111" stroke-width="0.45"><path d="M3.67 0.00L3.67 -8.82L1.40 -7.20L1.40 -8.41L3.78 -10.04L4.96 -10.04L4.96 0.00Z"/><text x="8.12" xml:space="preserve">7</text></g>
<g transform="translate(346.96 582.51) scale(0.9450 1)" font-size="14.6" font-weight="normal" font-style="normal" fill="#111" stroke="#111" stroke-width="0.45"><path d="M3.67 0.00L3.67 -8.82L1.40 -7.20L1.40 -8.41L3.78 -10.04L4.96 -10.04L4.96 0.00Z"/><text x="8.12" xml:space="preserve">5</text></g>
<g transform="translate(346.93 595.94) scale(0.9450 1)" font-size="14.6" font-weight="normal" font-style="normal" fill="#111" stroke="#111" stroke-width="0.45"><path d="M3.67 0.00L3.67 -8.82L1.40 -7.20L1.40 -8.41L3.78 -10.04L4.96 -10.04L4.96 0.00Z"/><text x="8.12" xml:space="preserve">3</text></g>
<g transform="translate(347.93 609.36) scale(0.9450 1)" font-size="14.6" font-weight="normal" font-style="normal" fill="#111" stroke="#111" stroke-width="0.45"><path d="M3.67 0.00L3.67 -8.82L1.40 -7.20L1.40 -8.41L3.78 -10.04L4.96 -10.04L4.96 0.00Z"/><path d="M11.79 0.00L11.79 -8.82L9.52 -7.20L9.52 -8.41L11.90 -10.04L13.08 -10.04L13.08 0.00Z"/></g>
<text transform="translate(354.55 622.79) scale(0.9450 1)" font-size="14.6" font-weight="normal" font-style="normal" fill="#111" stroke="#111" stroke-width="0.45">9</text>
<text transform="translate(354.52 636.21) scale(0.9450 1)" font-size="14.6" font-weight="normal" font-style="normal" fill="#111" stroke="#111" stroke-width="0.45">7</text>
<text transform="translate(354.49 649.64) scale(0.9450 1)" font-size="14.6" font-weight="normal" font-style="normal" fill="#111" stroke="#111" stroke-width="0.45">5</text>
<text transform="translate(354.47 663.06) scale(0.9450 1)" font-size="14.6" font-weight="normal" font-style="normal" fill="#111" stroke="#111" stroke-width="0.45">3</text>
<g transform="translate(354.44 676.49) scale(0.9450 1)" font-size="14.6" font-weight="normal" font-style="normal" fill="#111" stroke="#111" stroke-width="0.45"><path d="M3.67 0.00L3.67 -8.82L1.40 -7.20L1.40 -8.41L3.78 -10.04L4.96 -10.04L4.96 0.00Z"/></g>
<path d="M429.20000000000005 76.8H510.9V263.4H429.20000000000005" stroke="#000" stroke-width="3.6" fill="none" stroke-linejoin="miter"/>
<path d="M430.6 242.3H510.9" stroke="#000" stroke-width="3.4" fill="none" />
<path d="M429.20000000000005 103.6H443.0L467.0 76.8" stroke="#000" stroke-width="3.4" fill="none" stroke-linejoin="miter"/>
<path d="M430.70000000000005 75.4V263.4" stroke="#000" stroke-width="2.2" fill="none" stroke-dasharray="4.8 4.05"/>
<path d="M502.0 142.3H510.9" stroke="#000" stroke-width="2.0" fill="none" />
<path d="M398.2 76.8H417.6" stroke="#111" stroke-width="1.6" fill="none" />
<path d="M398.2 103.6H417.6" stroke="#111" stroke-width="1.6" fill="none" />
<path d="M398.2 242.3H417.6" stroke="#111" stroke-width="1.6" fill="none" />
<path d="M398.2 263.4H417.6" stroke="#111" stroke-width="1.6" fill="none" />
<path d="M523.5 76.8H542.9" stroke="#111" stroke-width="1.6" fill="none" />
<path d="M523.5 142.3H542.9" stroke="#111" stroke-width="1.6" fill="none" />
<path d="M523.5 242.3H542.9" stroke="#111" stroke-width="1.6" fill="none" />
<path d="M523.5 263.4H542.9" stroke="#111" stroke-width="1.6" fill="none" />
<path d="M430.6 45.7V64.5" stroke="#111" stroke-width="1.6" fill="none" />
<path d="M467.2 45.7V64.5" stroke="#111" stroke-width="1.6" fill="none" />
<path d="M511.0 45.7V64.5" stroke="#111" stroke-width="1.6" fill="none" />
<path d="M430.6 277.2V295.8" stroke="#111" stroke-width="1.6" fill="none" />
<path d="M511.0 277.2V295.8" stroke="#111" stroke-width="1.6" fill="none" />
<path d="M666.8000000000001 123.6H600.3V242.1H666.8000000000001" stroke="#000" stroke-width="3.6" fill="none" stroke-linejoin="miter"/>
<path d="M604.0 242.1C616.5 242.1 622.8 250.0 623.8 263.7H666.8000000000001" stroke="#000" stroke-width="3.6" fill="none" stroke-linejoin="miter"/>
<path d="M665.6 131.8V263.7" stroke="#000" stroke-width="2.3" fill="none" stroke-dasharray="4.6 4.55"/>
<path d="M568.3 123.6H587.6" stroke="#111" stroke-width="1.6" fill="none" />
<path d="M678.6 123.6H690" stroke="#111" stroke-width="1.6" fill="none" />
<path d="M568.3 242.1H587.6" stroke="#111" stroke-width="1.6" fill="none" />
<path d="M678.6 242.1H690" stroke="#111" stroke-width="1.6" fill="none" />
<path d="M568.3 263.7H587.6" stroke="#111" stroke-width="1.6" fill="none" />
<path d="M678.6 263.7H690" stroke="#111" stroke-width="1.6" fill="none" />
<path d="M600.1999999999999 91.6V110.0" stroke="#111" stroke-width="1.6" fill="none" />
<path d="M600.1999999999999 277.6V296.0" stroke="#111" stroke-width="1.6" fill="none" />
<path d="M665.5 91.6V110.0" stroke="#111" stroke-width="1.6" fill="none" />
<path d="M665.5 277.6V296.0" stroke="#111" stroke-width="1.6" fill="none" />
<g transform="translate(438.00 59.43) scale(0.9800 1)" font-size="12.3" font-weight="bold" font-style="normal" fill="#111" stroke="#111" stroke-width="0.15"><path d="M2.87 0.00L2.87 -7.03L0.84 -5.76L0.84 -7.09L2.96 -8.46L4.56 -8.46L4.56 0.00Z"/><path d="M9.71 0.00L9.71 -7.03L7.68 -5.76L7.68 -7.09L9.80 -8.46L11.40 -8.46L11.40 0.00Z"/><text x="13.00" xml:space="preserve">,5</text></g>
<g transform="translate(477.07 41.23) scale(0.9800 1)" font-size="12.3" font-weight="bold" font-style="normal" fill="#111" stroke="#111" stroke-width="0.15"><path d="M2.87 0.00L2.87 -7.03L0.84 -5.76L0.84 -7.09L2.96 -8.46L4.56 -8.46L4.56 0.00Z"/><text x="6.84" xml:space="preserve">3,5</text></g>
<g transform="translate(478.08 54.63) scale(0.9800 1)" font-size="12.3" font-weight="bold" font-style="normal" fill="#111" stroke="#111" stroke-width="0.15"><text x="0.00" xml:space="preserve">(</text><path d="M6.97 0.00L6.97 -7.03L4.94 -5.76L4.94 -7.09L7.06 -8.46L8.65 -8.46L8.65 0.00Z"/><text x="10.94" xml:space="preserve">6)</text></g>
<g transform="translate(482.10 68.03) scale(0.9800 1)" font-size="12.3" font-weight="bold" font-style="normal" fill="#111" stroke="#111" stroke-width="0.15"><path d="M2.87 0.00L2.87 -7.03L0.84 -5.76L0.84 -7.09L2.96 -8.46L4.56 -8.46L4.56 0.00Z"/><text x="6.84" xml:space="preserve">8</text></g>
<text transform="translate(399.82 95.03) scale(0.9800 1)" font-size="12.3" font-weight="bold" font-style="normal" fill="#111" stroke="#111" stroke-width="0.15">8,5</text>
<text transform="translate(521.47 100.93) scale(0.9800 1)" font-size="12.3" font-weight="bold" font-style="normal" fill="#111" stroke="#111" stroke-width="0.15">20,5</text>
<text transform="translate(522.48 114.33) scale(0.9800 1)" font-size="12.3" font-weight="bold" font-style="normal" fill="#111" stroke="#111" stroke-width="0.15">(23)</text>
<text transform="translate(526.50 127.73) scale(0.9800 1)" font-size="12.3" font-weight="bold" font-style="normal" fill="#111" stroke="#111" stroke-width="0.15">25</text>
<text transform="translate(401.80 162.73) scale(0.9800 1)" font-size="12.3" font-weight="bold" font-style="normal" fill="#111" stroke="#111" stroke-width="0.15">43</text>
<text transform="translate(392.76 176.53) scale(0.9800 1)" font-size="12.3" font-weight="bold" font-style="normal" fill="#111" stroke="#111" stroke-width="0.15">(45,5)</text>
<text transform="translate(401.80 190.33) scale(0.9800 1)" font-size="12.3" font-weight="bold" font-style="normal" fill="#111" stroke="#111" stroke-width="0.15">48</text>
<g transform="translate(526.30 186.53) scale(0.9800 1)" font-size="12.3" font-weight="bold" font-style="normal" fill="#111" stroke="#111" stroke-width="0.15"><text x="0.00" xml:space="preserve">3</text><path d="M9.71 0.00L9.71 -7.03L7.68 -5.76L7.68 -7.09L9.80 -8.46L11.40 -8.46L11.40 0.00Z"/></g>
<g transform="translate(522.28 200.23) scale(0.9800 1)" font-size="12.3" font-weight="bold" font-style="normal" fill="#111" stroke="#111" stroke-width="0.15"><text x="0.00" xml:space="preserve">(3</text><path d="M13.81 0.00L13.81 -7.03L11.78 -5.76L11.78 -7.09L13.90 -8.46L15.50 -8.46L15.50 0.00Z"/><text x="17.78" xml:space="preserve">)</text></g>
<g transform="translate(521.27 213.63) scale(0.9800 1)" font-size="12.3" font-weight="bold" font-style="normal" fill="#111" stroke="#111" stroke-width="0.15"><text x="0.00" xml:space="preserve">3</text><path d="M9.71 0.00L9.71 -7.03L7.68 -5.76L7.68 -7.09L9.80 -8.46L11.40 -8.46L11.40 0.00Z"/><text x="13.68" xml:space="preserve">,5</text></g>
<text transform="translate(404.65 258.03) scale(0.9800 1)" font-size="12.3" font-weight="bold" font-style="normal" fill="#111" stroke="#111" stroke-width="0.15">7</text>
<text transform="translate(529.65 258.03) scale(0.9800 1)" font-size="12.3" font-weight="bold" font-style="normal" fill="#111" stroke="#111" stroke-width="0.15">7</text>
<text transform="translate(464.30 283.13) scale(0.9800 1)" font-size="12.3" font-weight="bold" font-style="normal" fill="#111" stroke="#111" stroke-width="0.15">25</text>
<text transform="translate(455.26 297.63) scale(0.9800 1)" font-size="12.3" font-weight="bold" font-style="normal" fill="#111" stroke="#111" stroke-width="0.15">(27,5)</text>
<text transform="translate(459.27 311.03) scale(0.9800 1)" font-size="12.3" font-weight="bold" font-style="normal" fill="#111" stroke="#111" stroke-width="0.15">29,5</text>
<text transform="translate(622.57 87.43) scale(0.9800 1)" font-size="12.3" font-weight="bold" font-style="normal" fill="#111" stroke="#111" stroke-width="0.15">20,5</text>
<text transform="translate(623.58 100.73) scale(0.9800 1)" font-size="12.3" font-weight="bold" font-style="normal" fill="#111" stroke="#111" stroke-width="0.15">(23)</text>
<text transform="translate(627.60 114.53) scale(0.9800 1)" font-size="12.3" font-weight="bold" font-style="normal" fill="#111" stroke="#111" stroke-width="0.15">25</text>
<text transform="translate(570.80 177.83) scale(0.9800 1)" font-size="12.3" font-weight="bold" font-style="normal" fill="#111" stroke="#111" stroke-width="0.15">37</text>
<text transform="translate(561.76 191.43) scale(0.9800 1)" font-size="12.3" font-weight="bold" font-style="normal" fill="#111" stroke="#111" stroke-width="0.15">(38,5)</text>
<text transform="translate(570.80 205.23) scale(0.9800 1)" font-size="12.3" font-weight="bold" font-style="normal" fill="#111" stroke="#111" stroke-width="0.15">40</text>
<text transform="translate(681.60 177.93) scale(0.9800 1)" font-size="12.3" font-weight="bold" font-style="normal" fill="#111" stroke="#111" stroke-width="0.15">37</text>
<text transform="translate(672.56 191.43) scale(0.9800 1)" font-size="12.3" font-weight="bold" font-style="normal" fill="#111" stroke="#111" stroke-width="0.15">(38,5)</text>
<text transform="translate(681.60 204.93) scale(0.9800 1)" font-size="12.3" font-weight="bold" font-style="normal" fill="#111" stroke="#111" stroke-width="0.15">40</text>
<text transform="translate(574.45 258.03) scale(0.9800 1)" font-size="12.3" font-weight="bold" font-style="normal" fill="#111" stroke="#111" stroke-width="0.15">7</text>
<text transform="translate(623.27 283.53) scale(0.9800 1)" font-size="12.3" font-weight="bold" font-style="normal" fill="#111" stroke="#111" stroke-width="0.15">20,5</text>
<text transform="translate(624.28 297.43) scale(0.9800 1)" font-size="12.3" font-weight="bold" font-style="normal" fill="#111" stroke="#111" stroke-width="0.15">(23)</text>
<text transform="translate(628.30 310.73) scale(0.9800 1)" font-size="12.3" font-weight="bold" font-style="normal" fill="#111" stroke="#111" stroke-width="0.15">25</text>
<g transform="translate(460.70 143.60) scale(0.8197 1)" font-size="17.2" font-weight="normal" font-style="normal" fill="#111" stroke="#111" stroke-width="0.7"><path d="M4.33 0.00L4.33 -10.39L1.65 -8.48L1.65 -9.91L4.45 -11.83L5.85 -11.83L5.85 0.00Z"/><text x="9.57" xml:space="preserve">/2</text></g>
<text transform="translate(447.25 162.50) scale(0.7196 1)" font-size="19.0" font-weight="normal" font-style="normal" fill="#111" stroke="#111" stroke-width="0.7">переда</text>
<text transform="translate(440.70 179.80) scale(0.7740 1)" font-size="19.0" font-weight="normal" font-style="normal" fill="#111" stroke="#111" stroke-width="0.7">и спинки</text>
<g transform="translate(623.00 173.00) scale(0.7863 1)" font-size="17.2" font-weight="normal" font-style="normal" fill="#111" stroke="#111" stroke-width="0.7"><path d="M4.33 0.00L4.33 -10.39L1.65 -8.48L1.65 -9.91L4.45 -11.83L5.85 -11.83L5.85 0.00Z"/><text x="9.57" xml:space="preserve">/2</text></g>
<text transform="translate(610.80 190.20) scale(0.7249 1)" font-size="19.0" font-weight="normal" font-style="normal" fill="#111" stroke="#111" stroke-width="0.7">рукава</text>
<text transform="translate(455.80 352.90) scale(0.7912 1)" font-size="18.2" font-weight="bold" font-style="italic" fill="#000" stroke="#000" stroke-width="0.75">Условные обозначения:</text>
<g transform="translate(476.80 369.50) scale(0.7909 1) skewX(-11.5)" font-size="13.0" font-weight="bold" font-style="normal" fill="#111" stroke="#111" stroke-width="0.22"><text x="0.00" xml:space="preserve">= </text><path d="M14.24 0.00L14.24 -7.43L12.09 -6.09L12.09 -7.49L14.33 -8.94L16.02 -8.94L16.02 0.00Z"/><text x="18.43" xml:space="preserve"> кромочная</text></g>
<g transform="translate(476.80 386.44) scale(0.7853 1) skewX(-11.5)" font-size="13.0" font-weight="bold" font-style="normal" fill="#111" stroke="#111" stroke-width="0.22"><text x="0.00" xml:space="preserve">= </text><path d="M14.24 0.00L14.24 -7.43L12.09 -6.09L12.09 -7.49L14.33 -8.94L16.02 -8.94L16.02 0.00Z"/><text x="18.43" xml:space="preserve"> лицевая</text></g>
<g transform="translate(476.80 403.38) scale(0.7988 1) skewX(-11.5)" font-size="13.0" font-weight="bold" font-style="normal" fill="#111" stroke="#111" stroke-width="0.22"><text x="0.00" xml:space="preserve">= </text><path d="M14.24 0.00L14.24 -7.43L12.09 -6.09L12.09 -7.49L14.33 -8.94L16.02 -8.94L16.02 0.00Z"/><text x="18.43" xml:space="preserve"> изнаночная</text></g>
<g transform="translate(476.80 420.32) scale(0.7912 1) skewX(-11.5)" font-size="13.0" font-weight="bold" font-style="normal" fill="#111" stroke="#111" stroke-width="0.22"><text x="0.00" xml:space="preserve">= </text><path d="M14.24 0.00L14.24 -7.43L12.09 -6.09L12.09 -7.49L14.33 -8.94L16.02 -8.94L16.02 0.00Z"/><text x="18.43" xml:space="preserve"> накид, в изнаночном ряду</text></g>
<text transform="translate(476.80 437.26) scale(0.7852 1) skewX(-11.5)" font-size="13.0" font-weight="bold" font-style="normal" fill="#111" stroke="#111" stroke-width="0.22">провязать изнаночной</text>
<g transform="translate(476.80 454.20) scale(0.7943 1) skewX(-11.5)" font-size="13.0" font-weight="bold" font-style="normal" fill="#111" stroke="#111" stroke-width="0.22"><text x="0.00" xml:space="preserve">= </text><path d="M14.24 0.00L14.24 -7.43L12.09 -6.09L12.09 -7.49L14.33 -8.94L16.02 -8.94L16.02 0.00Z"/><text x="18.43" xml:space="preserve"> накид, в изнаночном</text></g>
<text transform="translate(476.80 471.14) scale(0.7684 1) skewX(-11.5)" font-size="13.0" font-weight="bold" font-style="normal" fill="#111" stroke="#111" stroke-width="0.22">ряду провязать лицевой</text>
<text transform="translate(476.80 488.08) scale(0.7892 1) skewX(-11.5)" font-size="13.0" font-weight="bold" font-style="normal" fill="#111" stroke="#111" stroke-width="0.22">= 2 п. провязать вместе</text>
<text transform="translate(476.80 505.02) scale(0.7587 1) skewX(-11.5)" font-size="13.0" font-weight="bold" font-style="normal" fill="#111" stroke="#111" stroke-width="0.22">лицевой</text>
<text transform="translate(476.80 521.96) scale(0.7892 1) skewX(-11.5)" font-size="13.0" font-weight="bold" font-style="normal" fill="#111" stroke="#111" stroke-width="0.22">= 2 п. провязать вместе</text>
<g transform="translate(476.80 538.90) scale(0.7959 1) skewX(-11.5)" font-size="13.0" font-weight="bold" font-style="normal" fill="#111" stroke="#111" stroke-width="0.22"><text x="0.00" xml:space="preserve">с наклоном влево (= </text><path d="M138.54 0.00L138.54 -7.43L136.40 -6.09L136.40 -7.49L138.64 -8.94L140.33 -8.94L140.33 0.00Z"/><text x="142.74" xml:space="preserve"> п.</text></g>
<g transform="translate(476.80 555.84) scale(0.7866 1) skewX(-11.5)" font-size="13.0" font-weight="bold" font-style="normal" fill="#111" stroke="#111" stroke-width="0.22"><text x="0.00" xml:space="preserve">снять, как лицевую, </text><path d="M135.83 0.00L135.83 -7.43L133.69 -6.09L133.69 -7.49L135.93 -8.94L137.62 -8.94L137.62 0.00Z"/><text x="140.03" xml:space="preserve"> лицевая,</text></g>
<text transform="translate(476.80 572.78) scale(0.7940 1) skewX(-11.5)" font-size="13.0" font-weight="bold" font-style="normal" fill="#111" stroke="#111" stroke-width="0.22">затем протянуть ее через</text>
<text transform="translate(476.80 589.72) scale(0.7596 1) skewX(-11.5)" font-size="13.0" font-weight="bold" font-style="normal" fill="#111" stroke="#111" stroke-width="0.22">снятую петлю)</text>
<g transform="translate(476.80 606.66) scale(0.7803 1) skewX(-11.5)" font-size="13.0" font-weight="bold" font-style="normal" fill="#111" stroke="#111" stroke-width="0.22"><text x="0.00" xml:space="preserve">= </text><path d="M14.24 0.00L14.24 -7.43L12.09 -6.09L12.09 -7.49L14.33 -8.94L16.02 -8.94L16.02 0.00Z"/><text x="18.43" xml:space="preserve"> п. провязать с двойным</text></g>
<text transform="translate(476.80 623.60) scale(0.7865 1) skewX(-11.5)" font-size="13.0" font-weight="bold" font-style="normal" fill="#111" stroke="#111" stroke-width="0.22">наклоном влево (= 2 п.</text>
<text transform="translate(476.80 640.54) scale(0.7935 1) skewX(-11.5)" font-size="13.0" font-weight="bold" font-style="normal" fill="#111" stroke="#111" stroke-width="0.22">снять вместе, как лицевые,</text>
<g transform="translate(476.80 657.48) scale(0.7864 1) skewX(-11.5)" font-size="13.0" font-weight="bold" font-style="normal" fill="#111" stroke="#111" stroke-width="0.22"><path d="M3.03 0.00L3.03 -7.43L0.89 -6.09L0.89 -7.49L3.13 -8.94L4.82 -8.94L4.82 0.00Z"/><text x="7.23" xml:space="preserve"> лицевая, затем протянуть</text></g>
<text transform="translate(476.80 674.42) scale(0.7867 1) skewX(-11.5)" font-size="13.0" font-weight="bold" font-style="normal" fill="#111" stroke="#111" stroke-width="0.22">ее через снятые петли)</text>
<rect x="458.0" y="359.20" width="13.30" height="13.00" fill="none" stroke="#111" stroke-width="1.5"/>
<path d="M461.15 365.9H468.15M464.65 362.3V369.5" stroke="#111" stroke-width="1.5" fill="none" />
<rect x="458.0" y="375.50" width="13.30" height="13.60" fill="none" stroke="#111" stroke-width="1.5"/>
<rect x="458.0" y="392.40" width="13.30" height="13.10" fill="none" stroke="#111" stroke-width="1.5"/>
<path d="M459.65 399.65H469.65" stroke="#111" stroke-width="2.3" fill="none" />
<rect x="458.0" y="409.70" width="13.30" height="12.90" fill="none" stroke="#111" stroke-width="1.5"/>
<path d="M461.65 411.54999999999995V417.95A3.0 3 0 0 0 467.65 417.95V411.54999999999995" stroke="#111" stroke-width="1.7" fill="none" />
<rect x="458.0" y="443.00" width="13.30" height="14.10" fill="none" stroke="#111" stroke-width="1.5"/>
<path d="M461.65 446.25V452.25A3.0 3 0 0 0 467.65 452.25V446.25" stroke="#111" stroke-width="1.7" fill="none" />
<path d="M461.15 445.3H468.15" stroke="#333" stroke-width="1.1" fill="none" />
<rect x="458.0" y="478.10" width="13.30" height="13.60" fill="none" stroke="#111" stroke-width="1.5"/>
<path d="M458.3 485.2L464.65 490.9L471.0 484.9M464.65 485.7V490.9" stroke="#222" stroke-width="1.1" fill="none" />
<path d="M462.04999999999995 481.29999999999995C462.25 478.29999999999995 467.45 478.5 467.15 481.2C466.84999999999997 483.0 462.84999999999997 483.9 461.75 485.79999999999995H467.65" stroke="#111" stroke-width="1.6" fill="none" />
<rect x="458.0" y="511.20" width="13.30" height="13.70" fill="none" stroke="#111" stroke-width="1.5"/>
<path d="M464.65 511.2V522.6999999999999M461.04999999999995 519.3L464.65 523.3L468.25 519.3" stroke="#111" stroke-width="1.5" fill="none" />
<rect x="458.0" y="596.20" width="13.30" height="14.00" fill="none" stroke="#111" stroke-width="1.5"/>
<path d="M464.65 610.2V598.4000000000001M461.04999999999995 601.8000000000001L464.65 597.8000000000001L468.25 601.8000000000001" stroke="#111" stroke-width="1.5" fill="none" />
</g>
</g>
<g font-family="'Liberation Sans', sans-serif">
<text transform="translate(583.30 682.30) scale(0.9664 1)" font-size="13.4" font-weight="normal" font-style="normal" fill="#fff" stroke="#b0b0b0" stroke-width="1.5" paint-order="stroke" stroke-linejoin="round" filter="url(#bl2)">PassionForum.ru</text>
</g>
</svg>
</body></html>
